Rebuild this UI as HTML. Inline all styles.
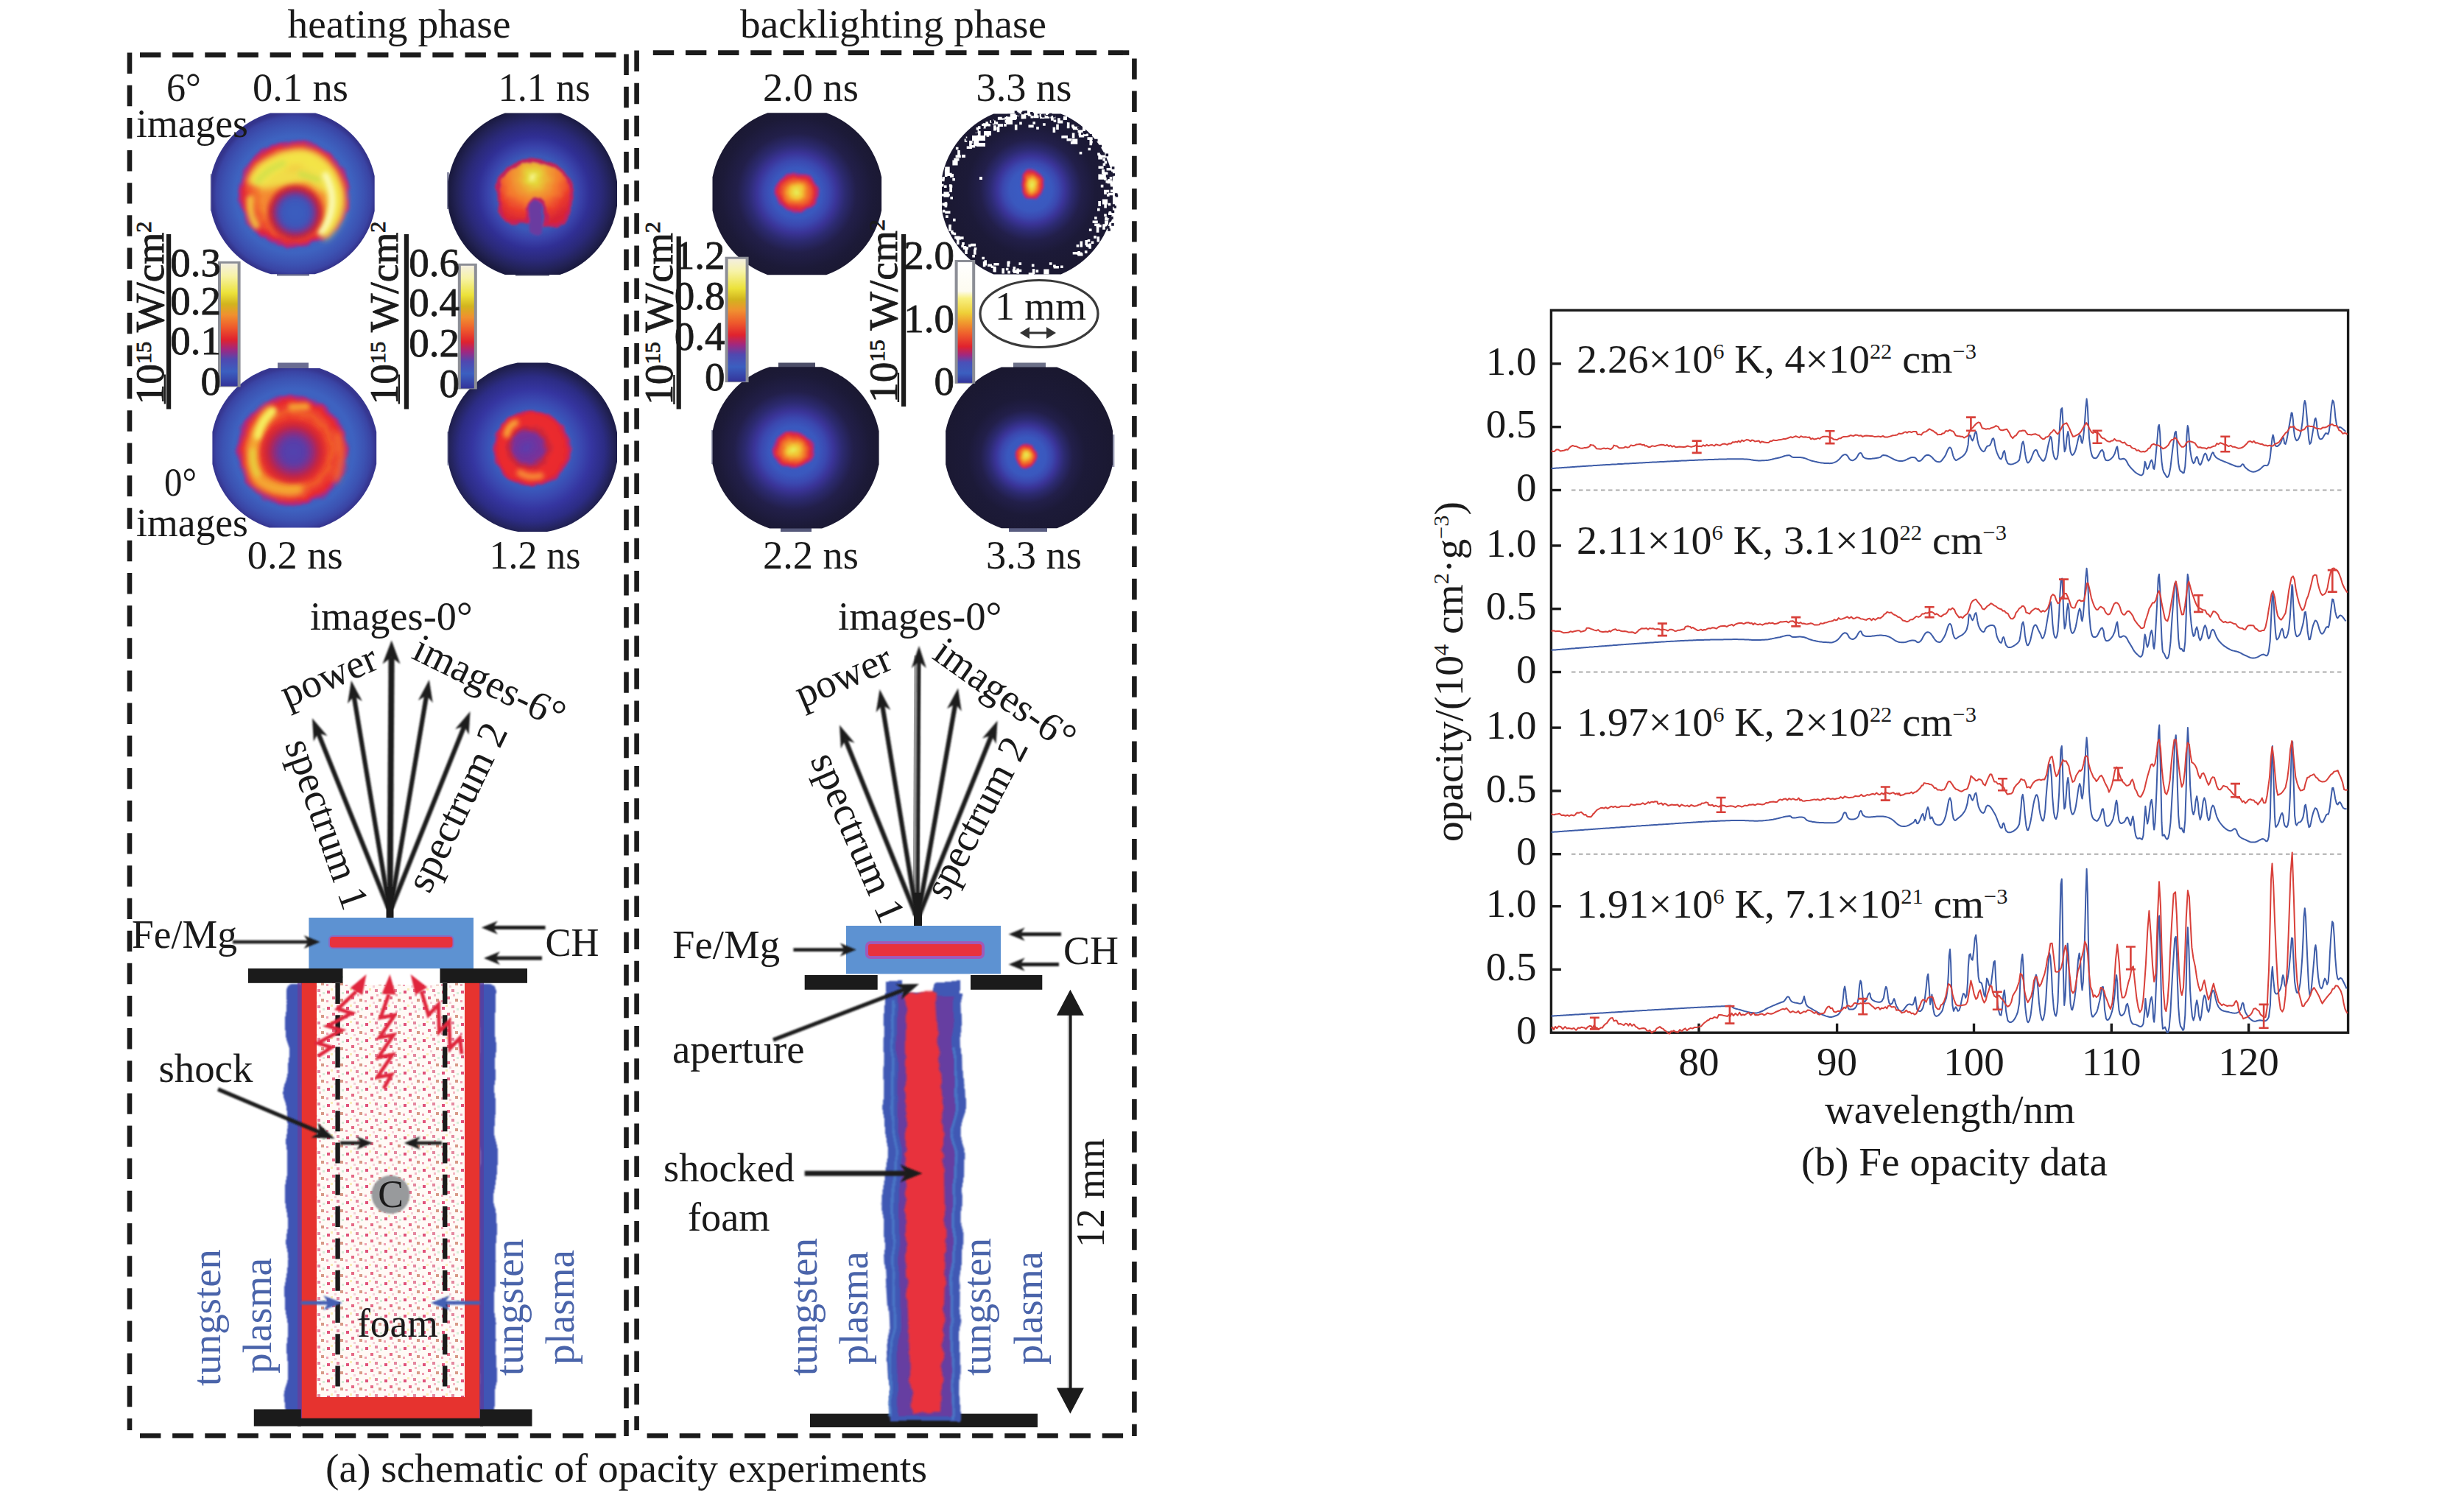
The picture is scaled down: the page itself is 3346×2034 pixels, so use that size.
<!DOCTYPE html>
<html><head><meta charset="utf-8"><title>Fe opacity experiments</title>
<style>html,body{margin:0;padding:0;background:#fff}svg{display:block}text{font-family:'Liberation Serif', 'Noto Serif CJK SC', serif}</style></head>
<body>
<svg width="3346" height="2034" viewBox="0 0 3346 2034" font-family="Liberation Serif, Noto Serif CJK SC, serif">

<defs>
<linearGradient id="cb" x1="0" y1="0" x2="0" y2="1">
<stop offset="0" stop-color="#f4efe0"/><stop offset="0.10" stop-color="#f7f3a8"/><stop offset="0.24" stop-color="#ece23a"/>
<stop offset="0.33" stop-color="#d2b41e"/><stop offset="0.42" stop-color="#f09030"/><stop offset="0.52" stop-color="#ee5a2c"/>
<stop offset="0.62" stop-color="#e0222e"/><stop offset="0.70" stop-color="#a02880"/><stop offset="0.78" stop-color="#5048b0"/>
<stop offset="0.88" stop-color="#3b5fc0"/><stop offset="1" stop-color="#34349a"/>
</linearGradient>
<linearGradient id="cb4" x1="0" y1="0" x2="0" y2="1">
<stop offset="0" stop-color="#ffffff"/><stop offset="0.24" stop-color="#fdfbf0"/><stop offset="0.30" stop-color="#f8f080"/>
<stop offset="0.42" stop-color="#eed038"/><stop offset="0.50" stop-color="#f09a2e"/><stop offset="0.60" stop-color="#ee5a2c"/>
<stop offset="0.70" stop-color="#e0222e"/><stop offset="0.77" stop-color="#a02880"/><stop offset="0.83" stop-color="#4a50b8"/>
<stop offset="0.92" stop-color="#3b5fc0"/><stop offset="1" stop-color="#34349a"/>
</linearGradient>
<filter id="b2" x="-20%" y="-20%" width="140%" height="140%"><feGaussianBlur stdDeviation="2"/></filter>
<filter id="b3" x="-20%" y="-20%" width="140%" height="140%"><feGaussianBlur stdDeviation="3.2"/></filter>
<filter id="b5" x="-30%" y="-30%" width="160%" height="160%"><feGaussianBlur stdDeviation="5"/></filter>
<filter id="b8" x="-30%" y="-30%" width="160%" height="160%"><feGaussianBlur stdDeviation="8"/></filter>
<filter id="b1" x="-10%" y="-10%" width="120%" height="120%"><feGaussianBlur stdDeviation="1.1"/></filter>
<filter id="rough" x="-10%" y="-10%" width="120%" height="120%"><feTurbulence type="fractalNoise" baseFrequency="0.06" numOctaves="2" seed="3" result="n"/><feDisplacementMap in="SourceGraphic" in2="n" scale="9"/><feGaussianBlur stdDeviation="1.6"/></filter>
<filter id="wav" x="-10%" y="-5%" width="120%" height="110%"><feTurbulence type="fractalNoise" baseFrequency="0.012 0.02" numOctaves="2" seed="7" result="n"/><feDisplacementMap in="SourceGraphic" in2="n" scale="16" xChannelSelector="R" yChannelSelector="G"/><feGaussianBlur stdDeviation="1.2"/></filter>
<pattern id="speck" width="26" height="22" patternUnits="userSpaceOnUse">
<rect width="26" height="22" fill="#fffaf6"/>
<rect x="2" y="3" width="4" height="4" fill="#e0527a"/><rect x="15" y="1" width="4" height="4" fill="#e488a0"/>
<rect x="9" y="11" width="4" height="4" fill="#e66a86"/><rect x="20" y="14" width="4" height="4" fill="#d89a88"/>
<rect x="1" y="16" width="3" height="3" fill="#f0a0b4"/><rect x="17" y="8" width="3" height="3" fill="#f4b8c4"/>
<rect x="7" y="0" width="3" height="3" fill="#f8ecb8"/><rect x="22" y="5" width="3" height="3" fill="#d8ecd8"/>
<rect x="12" y="18" width="3" height="3" fill="#f6d0d8"/>
</pattern>
<filter id="f1a" filterUnits="userSpaceOnUse" x="280" y="148" width="240" height="232"><feGaussianBlur stdDeviation="5"/></filter>
<filter id="f1b" filterUnits="userSpaceOnUse" x="280" y="148" width="240" height="232"><feGaussianBlur stdDeviation="3"/></filter>
<filter id="f1r" filterUnits="userSpaceOnUse" x="280" y="148" width="240" height="232"><feTurbulence type="fractalNoise" baseFrequency="0.06" numOctaves="2" seed="3" result="n"/><feDisplacementMap in="SourceGraphic" in2="n" scale="9" xChannelSelector="R" yChannelSelector="G"/><feGaussianBlur stdDeviation="1.6"/></filter>
<radialGradient id="g1" gradientUnits="userSpaceOnUse" cx="399" cy="264" r="111"><stop offset="0" stop-color="#3f6ac6"/><stop offset="0.72" stop-color="#3e63c0"/><stop offset="0.86" stop-color="#3c52b2"/><stop offset="0.95" stop-color="#3a44a4"/><stop offset="1" stop-color="#34348c"/></radialGradient>
<radialGradient id="h1" gradientUnits="userSpaceOnUse" cx="399.4" cy="263.5" r="79" gradientTransform="translate(0 13.2) scale(1 0.95)"><stop offset="0" stop-color="#f4902e"/><stop offset="0.55" stop-color="#f48a30"/><stop offset="0.74" stop-color="#f0562c"/><stop offset="0.86" stop-color="#e22838"/><stop offset="0.94" stop-color="#a82a86"/><stop offset="1" stop-color="#5a48b0" stop-opacity="0"/></radialGradient>
<radialGradient id="o1" gradientUnits="userSpaceOnUse" cx="401" cy="289" r="40"><stop offset="0" stop-color="#3a5ec0"/><stop offset="0.46" stop-color="#3c58ba"/><stop offset="0.62" stop-color="#5a3ca4"/><stop offset="0.78" stop-color="#b4203c"/><stop offset="0.92" stop-color="#e03030"/><stop offset="1" stop-color="#f05a2c" stop-opacity="0"/></radialGradient>
<filter id="f2r" filterUnits="userSpaceOnUse" x="600" y="148" width="250" height="232"><feTurbulence type="fractalNoise" baseFrequency="0.06" numOctaves="2" seed="5" result="n"/><feDisplacementMap in="SourceGraphic" in2="n" scale="8" xChannelSelector="R" yChannelSelector="G"/><feGaussianBlur stdDeviation="1.6"/></filter>
<filter id="f2b" filterUnits="userSpaceOnUse" x="600" y="148" width="250" height="232"><feGaussianBlur stdDeviation="3"/></filter>
<radialGradient id="g2" gradientUnits="userSpaceOnUse" cx="725" cy="262" r="115"><stop offset="0" stop-color="#3c5cbc"/><stop offset="0.44" stop-color="#3b58b8"/><stop offset="0.55" stop-color="#3942aa"/><stop offset="0.66" stop-color="#302f94"/><stop offset="0.8" stop-color="#2a2978"/><stop offset="0.92" stop-color="#222256"/><stop offset="1" stop-color="#1a1a40"/></radialGradient>
<radialGradient id="h2" gradientUnits="userSpaceOnUse" cx="724" cy="240" r="64"><stop offset="0" stop-color="#f6f48a"/><stop offset="0.14" stop-color="#e4d83a"/><stop offset="0.34" stop-color="#f0a032"/><stop offset="0.56" stop-color="#f4782e"/><stop offset="0.8" stop-color="#ea3a2c"/><stop offset="1" stop-color="#d82434"/></radialGradient>
<filter id="f3a" filterUnits="userSpaceOnUse" x="282" y="490" width="240" height="236"><feGaussianBlur stdDeviation="5"/></filter>
<filter id="f3b" filterUnits="userSpaceOnUse" x="282" y="490" width="240" height="236"><feGaussianBlur stdDeviation="3"/></filter>
<filter id="f3r" filterUnits="userSpaceOnUse" x="282" y="490" width="240" height="236"><feTurbulence type="fractalNoise" baseFrequency="0.06" numOctaves="2" seed="8" result="n"/><feDisplacementMap in="SourceGraphic" in2="n" scale="9" xChannelSelector="R" yChannelSelector="G"/><feGaussianBlur stdDeviation="1.6"/></filter>
<radialGradient id="g3" gradientUnits="userSpaceOnUse" cx="399" cy="610" r="111"><stop offset="0" stop-color="#3e62c0"/><stop offset="0.74" stop-color="#3e62c0"/><stop offset="0.87" stop-color="#3c52b2"/><stop offset="0.95" stop-color="#3a44a4"/><stop offset="1" stop-color="#363690"/></radialGradient>
<radialGradient id="h3" gradientUnits="userSpaceOnUse" cx="397" cy="612" r="78.5"><stop offset="0" stop-color="#e8302c"/><stop offset="0.5" stop-color="#ea342c"/><stop offset="0.68" stop-color="#f0582c"/><stop offset="0.84" stop-color="#e8282e"/><stop offset="0.93" stop-color="#a82a86"/><stop offset="1" stop-color="#5a48b0" stop-opacity="0"/></radialGradient>
<radialGradient id="o3" gradientUnits="userSpaceOnUse" cx="398.5" cy="613.5" r="46"><stop offset="0" stop-color="#5044b0"/><stop offset="0.36" stop-color="#5a3ca8"/><stop offset="0.56" stop-color="#8a2c80"/><stop offset="0.76" stop-color="#c8243a"/><stop offset="0.9" stop-color="#e02c30"/><stop offset="1" stop-color="#e8302c" stop-opacity="0"/></radialGradient>
<filter id="f4b" filterUnits="userSpaceOnUse" x="600" y="485" width="250" height="244"><feGaussianBlur stdDeviation="3"/></filter>
<filter id="f4r" filterUnits="userSpaceOnUse" x="600" y="485" width="250" height="244"><feTurbulence type="fractalNoise" baseFrequency="0.06" numOctaves="2" seed="11" result="n"/><feDisplacementMap in="SourceGraphic" in2="n" scale="8" xChannelSelector="R" yChannelSelector="G"/><feGaussianBlur stdDeviation="1.6"/></filter>
<radialGradient id="g4" gradientUnits="userSpaceOnUse" cx="722" cy="610" r="116"><stop offset="0" stop-color="#3a5cc0"/><stop offset="0.46" stop-color="#3a5abc"/><stop offset="0.58" stop-color="#3a48b0"/><stop offset="0.7" stop-color="#3535a0"/><stop offset="0.85" stop-color="#2c2c84"/><stop offset="0.95" stop-color="#24245e"/><stop offset="1" stop-color="#1e1e4c"/></radialGradient>
<radialGradient id="h4" gradientUnits="userSpaceOnUse" cx="722" cy="609" r="54" fx="714" fy="607"><stop offset="0" stop-color="#5c3cac"/><stop offset="0.36" stop-color="#7a3098"/><stop offset="0.5" stop-color="#cc263a"/><stop offset="0.62" stop-color="#ec2c2e"/><stop offset="0.86" stop-color="#e8282e"/><stop offset="0.95" stop-color="#b42870"/><stop offset="1" stop-color="#5a48b0" stop-opacity="0"/></radialGradient>
<radialGradient id="g5" gradientUnits="userSpaceOnUse" cx="1082" cy="262" r="123.98400000000001"><stop offset="0" stop-color="#3a5ec6"/><stop offset="0.27" stop-color="#3a58be"/><stop offset="0.357" stop-color="#3b48b0"/><stop offset="0.436" stop-color="#3a3498"/><stop offset="0.531" stop-color="#2c2a70"/><stop offset="0.653" stop-color="#221f4a"/><stop offset="0.828" stop-color="#1c1a38"/><stop offset="1" stop-color="#1a1830"/></radialGradient>
<radialGradient id="h5" gradientUnits="userSpaceOnUse" cx="1082" cy="261" r="31" gradientTransform="translate(0.00 25.26) scale(1.000 0.903)"><stop offset="0" stop-color="#e6f05a"/><stop offset="0.3" stop-color="#f2c432"/><stop offset="0.55" stop-color="#f2702a"/><stop offset="0.78" stop-color="#e22836"/><stop offset="0.93" stop-color="#a42a8c"/><stop offset="1" stop-color="#4a50b8" stop-opacity="0"/></radialGradient>
<filter id="f5" filterUnits="userSpaceOnUse" x="963.5" y="149.2" width="237.6" height="228"><feTurbulence type="fractalNoise" baseFrequency="0.06" numOctaves="2" seed="4" result="n"/><feDisplacementMap in="SourceGraphic" in2="n" scale="7" xChannelSelector="R" yChannelSelector="G"/><feGaussianBlur stdDeviation="1.4"/></filter>
<radialGradient id="g6" gradientUnits="userSpaceOnUse" cx="1400" cy="258" r="125.28"><stop offset="0" stop-color="#3a5ec6"/><stop offset="0.228" stop-color="#3a58be"/><stop offset="0.301" stop-color="#3b48b0"/><stop offset="0.367" stop-color="#3a3498"/><stop offset="0.448" stop-color="#2c2a70"/><stop offset="0.551" stop-color="#221f4a"/><stop offset="0.698" stop-color="#1c1a38"/><stop offset="1" stop-color="#1a1830"/></radialGradient>
<radialGradient id="h6" gradientUnits="userSpaceOnUse" cx="1401" cy="251" r="22" gradientTransform="translate(318.41 0.00) scale(0.773 1.000)"><stop offset="0" stop-color="#e6f05a"/><stop offset="0.3" stop-color="#f2c432"/><stop offset="0.55" stop-color="#f2702a"/><stop offset="0.78" stop-color="#e22836"/><stop offset="0.93" stop-color="#a42a8c"/><stop offset="1" stop-color="#4a50b8" stop-opacity="0"/></radialGradient>
<filter id="f6" filterUnits="userSpaceOnUse" x="1275" y="150.39999999999998" width="240" height="226"><feTurbulence type="fractalNoise" baseFrequency="0.06" numOctaves="2" seed="6" result="n"/><feDisplacementMap in="SourceGraphic" in2="n" scale="7" xChannelSelector="R" yChannelSelector="G"/><feGaussianBlur stdDeviation="1.4"/></filter>
<radialGradient id="g7" gradientUnits="userSpaceOnUse" cx="1078" cy="612" r="122.04"><stop offset="0" stop-color="#3a5ec6"/><stop offset="0.274" stop-color="#3a58be"/><stop offset="0.363" stop-color="#3b48b0"/><stop offset="0.442" stop-color="#3a3498"/><stop offset="0.54" stop-color="#2c2a70"/><stop offset="0.664" stop-color="#221f4a"/><stop offset="0.841" stop-color="#1c1a38"/><stop offset="1" stop-color="#1a1830"/></radialGradient>
<radialGradient id="h7" gradientUnits="userSpaceOnUse" cx="1077" cy="610.5" r="30" gradientTransform="translate(0.00 81.40) scale(1.000 0.867)"><stop offset="0" stop-color="#e6f05a"/><stop offset="0.3" stop-color="#f2c432"/><stop offset="0.55" stop-color="#f2702a"/><stop offset="0.78" stop-color="#e22836"/><stop offset="0.93" stop-color="#a42a8c"/><stop offset="1" stop-color="#4a50b8" stop-opacity="0"/></radialGradient>
<filter id="f7" filterUnits="userSpaceOnUse" x="963.5999999999999" y="494.19999999999993" width="234" height="227.2"><feTurbulence type="fractalNoise" baseFrequency="0.06" numOctaves="2" seed="9" result="n"/><feDisplacementMap in="SourceGraphic" in2="n" scale="7" xChannelSelector="R" yChannelSelector="G"/><feGaussianBlur stdDeviation="1.4"/></filter>
<radialGradient id="g8" gradientUnits="userSpaceOnUse" cx="1394" cy="620" r="122.58000000000001"><stop offset="0" stop-color="#3a5ec6"/><stop offset="0.212" stop-color="#3a58be"/><stop offset="0.281" stop-color="#3b48b0"/><stop offset="0.343" stop-color="#3a3498"/><stop offset="0.418" stop-color="#2c2a70"/><stop offset="0.514" stop-color="#221f4a"/><stop offset="0.651" stop-color="#1c1a38"/><stop offset="1" stop-color="#1a1830"/></radialGradient>
<radialGradient id="h8" gradientUnits="userSpaceOnUse" cx="1393.5" cy="618.5" r="18" gradientTransform="translate(154.83 0.00) scale(0.889 1.000)"><stop offset="0" stop-color="#e6f05a"/><stop offset="0.3" stop-color="#f2c432"/><stop offset="0.55" stop-color="#f2702a"/><stop offset="0.78" stop-color="#e22836"/><stop offset="0.93" stop-color="#a42a8c"/><stop offset="1" stop-color="#4a50b8" stop-opacity="0"/></radialGradient>
<filter id="f8" filterUnits="userSpaceOnUse" x="1280.1" y="494.4" width="235.0" height="226.8"><feTurbulence type="fractalNoise" baseFrequency="0.06" numOctaves="2" seed="12" result="n"/><feDisplacementMap in="SourceGraphic" in2="n" scale="7" xChannelSelector="R" yChannelSelector="G"/><feGaussianBlur stdDeviation="1.4"/></filter>
</defs>
<rect width="100%" height="100%" fill="#fff"/>
<g><clipPath id="r1"><rect x="286.7" y="153.4" width="222.0" height="218.8"/></clipPath><clipPath id="c1" clip-path="url(#r1)"><circle cx="397.7" cy="262.7" r="113.5"/></clipPath>
<rect x="285.4" y="236" width="2.6" height="50" fill="#b8bacc"/><rect x="376" y="369" width="44" height="5.5" fill="#6a6c8e"/>
<g clip-path="url(#c1)"><rect x="280" y="150" width="236" height="228" fill="url(#g1)"/>
<g filter="url(#f1r)"><ellipse cx="399.4" cy="263.5" rx="79" ry="75" fill="url(#h1)"/></g>
<g filter="url(#f1a)"><path d="M346 252 Q352 232 372 224 Q392 212 414 214 Q440 222 452 250 Q462 276 450 298 Q444 310 434 316" fill="none" stroke="#f3ea4a" stroke-width="24" stroke-linecap="butt" opacity="0.95"/><path d="M360 246 L420 236 L440 250" fill="none" stroke="#f1e44a" stroke-width="22" stroke-linecap="round" opacity="0.9"/></g>
<g filter="url(#f1b)"><path d="M442 238 Q458 268 446 298 Q442 308 436 314" fill="none" stroke="#fbfab4" stroke-width="9" stroke-linecap="round"/><path d="M350 246 Q362 230 384 222" fill="none" stroke="#cfe04a" stroke-width="9" stroke-linecap="round" opacity="0.8"/><path d="M340 270 Q338 292 348 306" fill="none" stroke="#f2d040" stroke-width="10" stroke-linecap="round" opacity="0.85"/><path d="M408 236 L432 244" fill="none" stroke="#c6de48" stroke-width="7" stroke-linecap="round" opacity="0.8"/></g>
<circle cx="401" cy="289" r="40" fill="url(#o1)" filter="url(#f1b)"/>
</g></g>
<g><clipPath id="r2"><rect x="608.4" y="153.4" width="229.6" height="219.6"/></clipPath><clipPath id="c2" clip-path="url(#r2)"><circle cx="723.2" cy="263.2" r="116"/></clipPath>
<rect x="607" y="234" width="3" height="50" fill="#8e90a8"/><rect x="700" y="369.5" width="46" height="5" fill="#555672"/>
<g clip-path="url(#c2)"><rect x="600" y="150" width="246" height="228" fill="url(#g2)"/>
<g filter="url(#f2r)"><path d="M676 268 Q674 224 724 217 Q778 224 776 270 Q774 300 758 308 L741 305 Q746 282 734 272 Q722 266 716 284 L716 302 L694 302 Q676 292 676 268 Z" fill="url(#h2)" stroke="#c4225a" stroke-width="5"/><path d="M727 282 L728 310" stroke="#6a3aa0" stroke-width="19" stroke-linecap="round"/></g>
</g></g>
<g><clipPath id="r3"><rect x="288.4" y="500" width="222.8" height="216.4"/></clipPath><clipPath id="c3" clip-path="url(#r3)"><circle cx="399.8" cy="608.2" r="113.5"/></clipPath>
<rect x="377" y="492.5" width="42" height="9" fill="#6a6c92"/>
<g clip-path="url(#c3)"><rect x="280" y="495" width="240" height="228" fill="url(#g3)"/>
<g filter="url(#f3r)"><ellipse cx="397" cy="612" rx="78.5" ry="77" fill="url(#h3)"/></g>
<g filter="url(#f3a)"><path d="M366 560 Q350 578 344 606 Q340 636 352 652 Q372 668 404 664" fill="none" stroke="#f4a832" stroke-width="17" stroke-linecap="round"/><path d="M458 590 Q468 620 456 650" fill="none" stroke="#f47a30" stroke-width="9" stroke-linecap="round" opacity="0.8"/></g>
<g filter="url(#f3b)"><path d="M370 558 Q354 572 350 592" fill="none" stroke="#f6f060" stroke-width="10" stroke-linecap="round"/><path d="M343 612 Q342 632 350 644" fill="none" stroke="#e4d840" stroke-width="7" stroke-linecap="round" opacity="0.85"/><path d="M396 553 L416 552" fill="none" stroke="#f4a030" stroke-width="10" stroke-linecap="round"/></g>
<ellipse cx="398.5" cy="613.5" rx="46" ry="42" fill="url(#o3)" filter="url(#f3b)"/>
</g></g>
<g><clipPath id="r4"><rect x="608.4" y="492.5" width="229.6" height="229.5"/></clipPath><clipPath id="c4" clip-path="url(#r4)"><circle cx="723.2" cy="607.2" r="116.5"/></clipPath>
<rect x="607" y="586" width="3" height="46" fill="#c0c2d4"/>
<g clip-path="url(#c4)"><rect x="600" y="485" width="246" height="244" fill="url(#g4)"/>
<g filter="url(#f4r)"><ellipse cx="722" cy="609" rx="54" ry="52" fill="url(#h4)"/></g>
<g filter="url(#f4b)"><path d="M688 590 Q690 578 700 574" fill="none" stroke="#f8a434" stroke-width="9" stroke-linecap="round"/><path d="M706 642 Q718 650 734 646" fill="none" stroke="#f68a34" stroke-width="9" stroke-linecap="round"/></g>
</g></g>
<g><clipPath id="r5"><rect x="967.5" y="153.2" width="229.6" height="220"/></clipPath><clipPath id="c5" clip-path="url(#r5)"><circle cx="1082.3" cy="263.2" r="117.0"/></clipPath>
<g clip-path="url(#c5)"><rect x="964.5" y="150.2" width="235.6" height="226" fill="url(#g5)"/>
<g filter="url(#f5)"><ellipse cx="1082" cy="261" rx="31" ry="28" fill="url(#h5)"/></g>
</g>
</g>
<g><clipPath id="r6"><rect x="1279" y="154.39999999999998" width="232" height="218"/></clipPath><clipPath id="c6" clip-path="url(#r6)"><circle cx="1395" cy="263.4" r="118.2"/></clipPath>
<g clip-path="url(#c6)"><rect x="1276" y="151.39999999999998" width="238" height="224" fill="url(#g6)"/>
<g filter="url(#f6)"><ellipse cx="1401" cy="251" rx="17" ry="22" fill="url(#h6)"/></g>
</g>
<path d="M1316.1 191.1h3.6v7.2h-3.6zM1411.6 155.1h3.6v3.6h-3.6zM1478.4 330.5h3.6v7.2h-3.6zM1286.1 233.1h3.6v3.6h-3.6zM1296.2 320.6h7.2v3.6h-7.2zM1401.7 152.8h7.2v3.6h-7.2zM1461.6 332.0h3.6v3.6h-3.6zM1407.2 172.1h3.6v3.6h-3.6zM1368.1 354.4h3.6v3.6h-3.6zM1491.5 225.4h7.2v3.6h-7.2zM1504.7 275.7h3.6v3.6h-3.6zM1498.0 304.2h3.6v3.6h-3.6zM1497.2 304.5h3.6v7.2h-3.6zM1354.9 159.1h7.2v3.6h-7.2zM1486.1 294.2h3.6v3.6h-3.6zM1458.1 171.2h7.2v3.6h-7.2zM1317.9 330.8h7.2v3.6h-7.2zM1364.6 163.1h3.6v3.6h-3.6zM1396.5 169.6h7.2v3.6h-7.2zM1289.3 253.7h3.6v7.2h-3.6zM1476.7 324.9h3.6v3.6h-3.6zM1490.0 282.8h3.6v3.6h-3.6zM1333.4 348.7h3.6v3.6h-3.6zM1375.6 362.1h3.6v3.6h-3.6zM1348.3 162.6h3.6v3.6h-3.6zM1372.4 156.0h7.2v3.6h-7.2zM1371.4 154.4h7.2v3.6h-7.2zM1401.8 365.1h3.6v7.2h-3.6zM1325.6 173.1h3.6v7.2h-3.6zM1334.8 355.0h3.6v7.2h-3.6zM1481.7 327.4h3.6v3.6h-3.6zM1456.9 172.7h7.2v3.6h-7.2zM1503.5 245.6h7.2v3.6h-7.2zM1279.3 275.6h7.2v3.6h-7.2zM1473.4 326.0h3.6v7.2h-3.6zM1470.7 181.4h7.2v3.6h-7.2zM1282.0 251.4h3.6v3.6h-3.6zM1416.1 167.2h3.6v3.6h-3.6zM1322.0 338.5h3.6v7.2h-3.6zM1383.5 356.3h3.6v3.6h-3.6zM1328.0 177.7h3.6v7.2h-3.6zM1282.9 229.9h3.6v7.2h-3.6zM1365.9 363.7h3.6v3.6h-3.6zM1375.9 367.5h7.2v3.6h-7.2zM1494.9 210.6h7.2v3.6h-7.2zM1499.2 233.4h3.6v3.6h-3.6zM1442.8 184.1h7.2v3.6h-7.2zM1354.8 168.3h7.2v3.6h-7.2zM1317.0 197.0h7.2v3.6h-7.2zM1317.1 191.2h3.6v3.6h-3.6zM1430.1 359.5h3.6v3.6h-3.6zM1399.5 153.2h3.6v7.2h-3.6zM1507.5 247.6h3.6v3.6h-3.6zM1345.6 360.4h3.6v3.6h-3.6zM1294.6 315.7h3.6v3.6h-3.6zM1400.9 358.6h3.6v3.6h-3.6zM1297.9 321.8h7.2v3.6h-7.2zM1351.6 165.3h3.6v3.6h-3.6zM1485.2 320.1h3.6v3.6h-3.6zM1491.4 236.6h7.2v7.2h-7.2zM1434.2 168.8h3.6v7.2h-3.6zM1462.4 342.4h7.2v3.6h-7.2zM1499.1 241.1h3.6v3.6h-3.6zM1308.7 334.1h3.6v3.6h-3.6zM1322.1 191.0h7.2v7.2h-7.2zM1288.2 306.5h3.6v7.2h-3.6zM1504.3 243.1h3.6v3.6h-3.6zM1386.6 154.3h3.6v7.2h-3.6zM1491.3 272.9h3.6v7.2h-3.6zM1497.4 214.9h3.6v3.6h-3.6zM1339.6 182.2h3.6v3.6h-3.6zM1505.0 288.4h7.2v3.6h-7.2zM1282.6 274.3h3.6v7.2h-3.6zM1415.8 155.8h3.6v3.6h-3.6zM1372.6 155.7h7.2v7.2h-7.2zM1288.9 250.2h3.6v3.6h-3.6zM1400.4 154.4h3.6v3.6h-3.6zM1379.4 153.2h3.6v3.6h-3.6zM1349.9 172.7h3.6v3.6h-3.6zM1503.0 263.2h3.6v3.6h-3.6zM1496.9 270.4h7.2v7.2h-7.2zM1456.1 188.5h7.2v7.2h-7.2zM1349.1 170.3h3.6v7.2h-3.6zM1448.9 166.0h3.6v7.2h-3.6zM1297.6 210.6h7.2v3.6h-7.2zM1463.3 344.0h7.2v3.6h-7.2zM1282.9 236.3h3.6v3.6h-3.6zM1380.5 154.4h3.6v3.6h-3.6zM1333.1 168.1h7.2v3.6h-7.2zM1499.2 260.4h3.6v3.6h-3.6zM1455.8 171.0h3.6v3.6h-3.6zM1499.0 257.7h7.2v3.6h-7.2zM1440.1 360.5h3.6v3.6h-3.6zM1309.7 185.6h3.6v7.2h-3.6zM1389.8 154.0h3.6v7.2h-3.6zM1476.5 186.3h7.2v3.6h-7.2zM1349.4 356.9h7.2v3.6h-7.2zM1497.6 221.4h3.6v3.6h-3.6zM1355.4 158.7h3.6v3.6h-3.6zM1383.7 365.7h3.6v3.6h-3.6zM1277.9 249.8h3.6v3.6h-3.6zM1284.1 292.3h3.6v3.6h-3.6zM1327.9 171.3h3.6v3.6h-3.6zM1465.0 183.0h7.2v3.6h-7.2zM1306.2 329.0h3.6v3.6h-3.6zM1426.4 157.0h7.2v3.6h-7.2zM1448.5 188.0h7.2v3.6h-7.2zM1392.7 152.5h7.2v3.6h-7.2zM1463.3 341.0h3.6v3.6h-3.6zM1367.5 355.1h3.6v7.2h-3.6zM1315.1 331.8h3.6v3.6h-3.6zM1430.6 162.4h3.6v3.6h-3.6zM1300.2 204.0h3.6v7.2h-3.6zM1499.9 303.6h3.6v3.6h-3.6zM1430.7 360.9h7.2v3.6h-7.2zM1504.6 261.7h7.2v3.6h-7.2zM1279.8 284.8h3.6v3.6h-3.6zM1486.2 303.4h7.2v3.6h-7.2zM1283.3 226.4h3.6v3.6h-3.6zM1338.4 165.3h3.6v3.6h-3.6zM1493.5 212.9h3.6v3.6h-3.6zM1341.4 168.0h3.6v3.6h-3.6zM1418.0 157.2h7.2v3.6h-7.2zM1378.0 153.8h3.6v3.6h-3.6zM1295.3 214.8h7.2v3.6h-7.2zM1344.2 163.2h3.6v3.6h-3.6zM1483.6 299.5h7.2v3.6h-7.2zM1411.6 154.5h3.6v3.6h-3.6zM1324.3 177.2h3.6v3.6h-3.6zM1283.3 286.5h7.2v3.6h-7.2zM1499.2 290.4h3.6v3.6h-3.6zM1369.0 155.8h7.2v3.6h-7.2zM1499.6 218.6h3.6v3.6h-3.6zM1286.2 263.0h3.6v3.6h-3.6zM1448.8 170.7h3.6v3.6h-3.6zM1502.6 228.0h7.2v3.6h-7.2zM1279.3 240.1h3.6v3.6h-3.6zM1478.9 310.4h3.6v3.6h-3.6zM1464.5 176.8h3.6v7.2h-3.6zM1284.0 235.4h7.2v3.6h-7.2zM1377.9 169.3h3.6v7.2h-3.6zM1465.7 206.0h3.6v3.6h-3.6zM1349.2 362.2h3.6v7.2h-3.6zM1348.5 361.8h3.6v7.2h-3.6zM1396.7 370.2h7.2v3.6h-7.2zM1374.8 365.6h3.6v3.6h-3.6zM1363.2 168.1h3.6v3.6h-3.6zM1488.5 304.9h7.2v3.6h-7.2zM1477.5 200.7h3.6v3.6h-3.6zM1294.0 296.8h3.6v3.6h-3.6zM1358.4 158.7h7.2v3.6h-7.2zM1343.4 358.5h3.6v3.6h-3.6zM1278.6 262.9h3.6v3.6h-3.6zM1289.0 234.7h3.6v3.6h-3.6zM1466.5 327.6h3.6v7.2h-3.6zM1453.9 192.1h3.6v3.6h-3.6zM1279.0 242.7h3.6v3.6h-3.6zM1320.3 345.9h3.6v3.6h-3.6zM1380.4 364.5h3.6v7.2h-3.6zM1403.3 156.6h7.2v3.6h-7.2zM1336.4 353.3h3.6v7.2h-3.6zM1297.9 199.7h3.6v3.6h-3.6zM1293.3 241.9h3.6v3.6h-3.6zM1466.4 332.0h3.6v3.6h-3.6zM1507.9 246.4h3.6v7.2h-3.6zM1361.4 158.9h7.2v3.6h-7.2zM1424.9 356.2h3.6v3.6h-3.6zM1402.4 165.2h3.6v3.6h-3.6zM1429.6 172.7h3.6v7.2h-3.6zM1299.0 324.8h3.6v7.2h-3.6zM1307.8 335.1h7.2v3.6h-7.2zM1395.6 154.0h3.6v3.6h-3.6zM1281.5 276.5h3.6v3.6h-3.6zM1310.2 337.8h3.6v7.2h-3.6zM1499.3 275.4h3.6v7.2h-3.6zM1281.5 260.6h7.2v7.2h-7.2zM1494.8 250.8h3.6v3.6h-3.6zM1427.1 160.1h3.6v3.6h-3.6zM1368.3 367.8h3.6v3.6h-3.6zM1312.7 198.4h7.2v3.6h-7.2zM1506.7 240.1h3.6v3.6h-3.6zM1505.6 287.0h3.6v3.6h-3.6zM1353.8 172.1h3.6v7.2h-3.6zM1289.7 251.2h3.6v3.6h-3.6zM1501.5 245.0h7.2v3.6h-7.2zM1339.1 167.6h3.6v3.6h-3.6zM1305.3 332.5h3.6v3.6h-3.6zM1480.1 190.9h3.6v3.6h-3.6zM1426.8 157.3h3.6v3.6h-3.6zM1321.5 187.3h3.6v3.6h-3.6zM1293.4 217.4h7.2v7.2h-7.2zM1406.6 366.3h3.6v3.6h-3.6zM1292.1 314.9h3.6v3.6h-3.6zM1291.0 312.7h3.6v3.6h-3.6zM1288.3 304.8h3.6v3.6h-3.6zM1377.7 153.4h7.2v3.6h-7.2zM1441.3 184.2h3.6v3.6h-3.6zM1455.8 180.5h3.6v7.2h-3.6zM1455.1 169.3h3.6v3.6h-3.6zM1489.5 321.2h3.6v7.2h-3.6zM1384.2 165.6h3.6v3.6h-3.6zM1322.7 336.0h3.6v3.6h-3.6zM1341.1 358.4h3.6v3.6h-3.6zM1301.4 321.3h7.2v3.6h-7.2zM1474.8 331.4h3.6v3.6h-3.6zM1347.9 165.6h3.6v3.6h-3.6zM1290.4 267.0h3.6v3.6h-3.6zM1476.5 332.2h3.6v3.6h-3.6zM1491.3 209.4h3.6v7.2h-3.6zM1326.6 183.6h3.6v3.6h-3.6zM1360.4 364.3h3.6v7.2h-3.6zM1500.3 294.4h3.6v3.6h-3.6zM1334.8 167.2h3.6v3.6h-3.6zM1286.1 226.4h3.6v7.2h-3.6zM1463.5 176.5h7.2v3.6h-7.2zM1472.9 340.3h3.6v3.6h-3.6zM1436.1 160.2h7.2v7.2h-7.2zM1471.3 181.2h3.6v3.6h-3.6zM1503.5 244.5h7.2v3.6h-7.2zM1497.3 233.7h7.2v3.6h-7.2zM1500.1 296.2h7.2v3.6h-7.2zM1417.3 365.4h7.2v7.2h-7.2zM1490.2 207.6h3.6v3.6h-3.6zM1456.7 341.9h7.2v3.6h-7.2zM1508.0 257.4h7.2v3.6h-7.2zM1378.2 366.4h3.6v3.6h-3.6zM1335.0 167.3h3.6v7.2h-3.6zM1488.8 308.6h3.6v7.2h-3.6zM1479.5 190.0h3.6v7.2h-3.6zM1498.2 236.5h3.6v7.2h-3.6z" fill="#fff"/>
<path d="M1320 184h18v7h-18zM1336 178h10v6h-10zM1326 194h12v5h-12zM1366 158h9v11h-9zM1375 156h6v6h-6zM1444 158h5v5h-5zM1398 154h8v4h-8zM1412 156h6v5h-6zM1420 152h4v4h-4zM1470 170h4v8h-4zM1290 236h5v5h-5zM1306 210h5v4h-5zM1500 300h5v5h-5zM1496 230h4v6h-4zM1330 240h4v4h-4z" fill="#fff"/>
<path d="M1377.7 150.6h3.6v3.6h-3.6zM1505.3 297.6h3.6v3.6h-3.6zM1360.7 156.8h3.6v3.6h-3.6zM1388.3 150.5h3.6v3.6h-3.6zM1425.1 153.8h3.6v3.6h-3.6zM1349.9 159.9h3.6v3.6h-3.6zM1504.3 310.2h3.6v3.6h-3.6zM1332.2 171.0h3.6v3.6h-3.6zM1496.7 206.9h3.6v3.6h-3.6zM1423.2 155.0h3.6v3.6h-3.6zM1487.0 188.7h3.6v3.6h-3.6zM1379.5 152.3h3.6v3.6h-3.6zM1387.1 151.7h3.6v3.6h-3.6zM1507.3 233.2h3.6v3.6h-3.6zM1459.4 168.2h3.6v3.6h-3.6zM1308.1 185.0h3.6v3.6h-3.6zM1439.7 159.9h3.6v3.6h-3.6zM1492.5 196.7h3.6v3.6h-3.6zM1321.5 175.6h3.6v3.6h-3.6zM1317.2 179.7h3.6v3.6h-3.6zM1415.0 155.9h3.6v3.6h-3.6zM1399.1 152.0h3.6v3.6h-3.6zM1501.5 208.6h3.6v3.6h-3.6zM1423.9 154.9h3.6v3.6h-3.6zM1509.8 226.2h3.6v3.6h-3.6zM1509.2 303.1h3.6v3.6h-3.6zM1400.4 153.6h3.6v3.6h-3.6zM1506.2 296.0h3.6v3.6h-3.6zM1449.7 162.7h3.6v3.6h-3.6zM1471.6 178.7h3.6v3.6h-3.6zM1508.1 294.1h3.6v3.6h-3.6zM1479.2 182.0h3.6v3.6h-3.6zM1345.9 162.5h3.6v3.6h-3.6zM1462.8 171.2h3.6v3.6h-3.6zM1368.2 154.8h3.6v3.6h-3.6zM1324.0 176.6h3.6v3.6h-3.6zM1413.9 155.1h3.6v3.6h-3.6zM1503.0 307.0h3.6v3.6h-3.6zM1391.4 150.2h3.6v3.6h-3.6zM1508.8 236.0h3.6v3.6h-3.6zM1514.6 263.9h3.6v3.6h-3.6zM1430.1 155.9h3.6v3.6h-3.6zM1381.3 153.7h3.6v3.6h-3.6zM1512.4 279.2h3.6v3.6h-3.6zM1509.6 285.5h3.6v3.6h-3.6zM1346.4 164.1h3.6v3.6h-3.6zM1510.4 235.2h3.6v3.6h-3.6zM1311.5 187.4h3.6v3.6h-3.6zM1513.9 262.3h3.6v3.6h-3.6zM1510.3 277.2h3.6v3.6h-3.6z" fill="#1c1a34"/>
</g>
<rect x="1057" y="492.5" width="50" height="8" fill="#4c4e68"/><rect x="1060" y="716" width="42" height="6" fill="#55587a"/><rect x="966" y="584" width="3" height="46" fill="#a0a2b8"/>
<g><clipPath id="r7"><rect x="967.5999999999999" y="498.19999999999993" width="226" height="219.2"/></clipPath><clipPath id="c7" clip-path="url(#r7)"><circle cx="1080.6" cy="607.8" r="115.2"/></clipPath>
<g clip-path="url(#c7)"><rect x="964.5999999999999" y="495.19999999999993" width="232" height="225.2" fill="url(#g7)"/>
<g filter="url(#f7)"><ellipse cx="1077" cy="610.5" rx="30" ry="26" fill="url(#h7)"/></g>
</g>
</g>
<rect x="1376" y="492.5" width="44" height="8" fill="#6c7088"/><rect x="1370" y="716" width="52" height="6" fill="#585c80"/><rect x="1510" y="590" width="3.4" height="44" fill="#9a9cb4"/>
<g><clipPath id="r8"><rect x="1284.1" y="498.4" width="227.0" height="218.8"/></clipPath><clipPath id="c8" clip-path="url(#r8)"><circle cx="1397.6" cy="607.8" r="115.7"/></clipPath>
<g clip-path="url(#c8)"><rect x="1281.1" y="495.4" width="233.0" height="224.8" fill="url(#g8)"/>
<g filter="url(#f8)"><ellipse cx="1393.5" cy="618.5" rx="16" ry="18" fill="url(#h8)"/></g>
</g>
</g>
<text x="390.5" y="50.5" font-size="55" text-anchor="start" fill="#1a1a1a" textLength="303" lengthAdjust="spacingAndGlyphs">heating phase</text>
<text x="1005" y="50.5" font-size="55" text-anchor="start" fill="#1a1a1a" textLength="416" lengthAdjust="spacingAndGlyphs">backlighting phase</text>
<text x="442" y="2012" font-size="55" text-anchor="start" fill="#1a1a1a" textLength="817" lengthAdjust="spacingAndGlyphs">(a) schematic of opacity experiments</text>
<path d="M190 74.6L846 74.6" stroke="#1b1b1b" stroke-width="6.6" fill="none" stroke-dasharray="28.4 15.75"/>
<path d="M176 71.6L176 1942" stroke="#1b1b1b" stroke-width="6.6" fill="none" stroke-dasharray="28.4 15.75"/>
<path d="M850.5 73.6L850.5 1950" stroke="#1b1b1b" stroke-width="6.6" fill="none" stroke-dasharray="28.4 15.75"/>
<path d="M190 1949.5L843 1949.5" stroke="#1b1b1b" stroke-width="6.6" fill="none" stroke-dasharray="28.4 15.75"/>
<path d="M886.8 71.6L1534 71.6" stroke="#1b1b1b" stroke-width="6.6" fill="none" stroke-dasharray="28.4 15.75"/>
<path d="M864.6 68.6L864.6 1942" stroke="#1b1b1b" stroke-width="6.6" fill="none" stroke-dasharray="28.4 15.75"/>
<path d="M1540.4 79.4L1540.4 1950" stroke="#1b1b1b" stroke-width="6.6" fill="none" stroke-dasharray="28.4 15.75"/>
<path d="M878.6 1949.5L1531 1949.5" stroke="#1b1b1b" stroke-width="6.6" fill="none" stroke-dasharray="28.4 15.75"/>
<text x="226" y="137" font-size="55" text-anchor="start" fill="#1a1a1a" textLength="47" lengthAdjust="spacingAndGlyphs">6°</text>
<text x="343" y="137" font-size="55" text-anchor="start" fill="#1a1a1a" textLength="130" lengthAdjust="spacingAndGlyphs">0.1 ns</text>
<text x="676.5" y="137" font-size="55" text-anchor="start" fill="#1a1a1a" textLength="125" lengthAdjust="spacingAndGlyphs">1.1 ns</text>
<text x="185" y="185.8" font-size="55" text-anchor="start" fill="#1a1a1a" textLength="152" lengthAdjust="spacingAndGlyphs">images</text>
<text x="223" y="673" font-size="55" text-anchor="start" fill="#1a1a1a" textLength="44" lengthAdjust="spacingAndGlyphs">0°</text>
<text x="185" y="727.8" font-size="55" text-anchor="start" fill="#1a1a1a" textLength="152" lengthAdjust="spacingAndGlyphs">images</text>
<text x="335.7" y="771.5" font-size="55" text-anchor="start" fill="#1a1a1a" textLength="130" lengthAdjust="spacingAndGlyphs">0.2 ns</text>
<text x="664.5" y="771.5" font-size="55" text-anchor="start" fill="#1a1a1a" textLength="124" lengthAdjust="spacingAndGlyphs">1.2 ns</text>
<text x="1036" y="137" font-size="55" text-anchor="start" fill="#1a1a1a" textLength="130" lengthAdjust="spacingAndGlyphs">2.0 ns</text>
<text x="1325.5" y="137" font-size="55" text-anchor="start" fill="#1a1a1a" textLength="130" lengthAdjust="spacingAndGlyphs">3.3 ns</text>
<text x="1036" y="771.5" font-size="55" text-anchor="start" fill="#1a1a1a" textLength="130" lengthAdjust="spacingAndGlyphs">2.2 ns</text>
<text x="1339" y="771.5" font-size="55" text-anchor="start" fill="#1a1a1a" textLength="130" lengthAdjust="spacingAndGlyphs">3.3 ns</text>
<rect x="296" y="354.8" width="30.6" height="170.6" fill="#8c8e96"/>
<rect x="300" y="357.8" width="22.6" height="166.6" fill="url(#cb)"/>
<text x="300" y="374.6" font-size="55" text-anchor="end" fill="#1a1a1a" stroke="#1b1b1b" stroke-width="0.8">0.3</text>
<text x="300" y="426.6" font-size="55" text-anchor="end" fill="#1a1a1a" stroke="#1b1b1b" stroke-width="0.8">0.2</text>
<text x="300" y="481" font-size="55" text-anchor="end" fill="#1a1a1a" stroke="#1b1b1b" stroke-width="0.8">0.1</text>
<text x="300" y="536" font-size="55" text-anchor="end" fill="#1a1a1a" stroke="#1b1b1b" stroke-width="0.8">0</text>
<g transform="translate(221.5 549.5) rotate(-90)"><text x="0" y="0" font-size="55" fill="#1b1b1b" stroke="#1b1b1b" stroke-width="0.9" textLength="249" lengthAdjust="spacingAndGlyphs">10<tspan font-size="30" dy="-17">15</tspan><tspan dy="17"> W/cm</tspan><tspan font-size="30" dy="-17">2</tspan></text><rect x="1" y="1.2" width="40" height="2.4" fill="#1b1b1b"/></g>
<rect x="226" y="318" width="6.2" height="237.5" fill="#1b1b1b"/>
<rect x="621.8" y="357.8" width="26" height="170.6" fill="#8c8e96"/>
<rect x="625.8" y="360.8" width="18" height="166.6" fill="url(#cb)"/>
<text x="624" y="374.6" font-size="55" text-anchor="end" fill="#1a1a1a" stroke="#1b1b1b" stroke-width="0.8">0.6</text>
<text x="624" y="429.4" font-size="55" text-anchor="end" fill="#1a1a1a" stroke="#1b1b1b" stroke-width="0.8">0.4</text>
<text x="624" y="484" font-size="55" text-anchor="end" fill="#1a1a1a" stroke="#1b1b1b" stroke-width="0.8">0.2</text>
<text x="624" y="539" font-size="55" text-anchor="end" fill="#1a1a1a" stroke="#1b1b1b" stroke-width="0.8">0</text>
<g transform="translate(539.5 549.5) rotate(-90)"><text x="0" y="0" font-size="55" fill="#1b1b1b" stroke="#1b1b1b" stroke-width="0.9" textLength="249" lengthAdjust="spacingAndGlyphs">10<tspan font-size="30" dy="-17">15</tspan><tspan dy="17"> W/cm</tspan><tspan font-size="30" dy="-17">2</tspan></text><rect x="1" y="1.2" width="40" height="2.4" fill="#1b1b1b"/></g>
<rect x="548.8" y="318" width="6.2" height="237.5" fill="#1b1b1b"/>
<rect x="984.6" y="348.7" width="32" height="170.4" fill="#8c8e96"/>
<rect x="988.6" y="351.7" width="24" height="166.4" fill="url(#cb)"/>
<text x="984.5" y="365.4" font-size="55" text-anchor="end" fill="#1a1a1a" stroke="#1b1b1b" stroke-width="0.8">1.2</text>
<text x="984.5" y="420.2" font-size="55" text-anchor="end" fill="#1a1a1a" stroke="#1b1b1b" stroke-width="0.8">0.8</text>
<text x="984.5" y="475" font-size="55" text-anchor="end" fill="#1a1a1a" stroke="#1b1b1b" stroke-width="0.8">0.4</text>
<text x="984.5" y="530" font-size="55" text-anchor="end" fill="#1a1a1a" stroke="#1b1b1b" stroke-width="0.8">0</text>
<g transform="translate(913 550) rotate(-90)"><text x="0" y="0" font-size="55" fill="#1b1b1b" stroke="#1b1b1b" stroke-width="0.9" textLength="249" lengthAdjust="spacingAndGlyphs">10<tspan font-size="30" dy="-17">15</tspan><tspan dy="17"> W/cm</tspan><tspan font-size="30" dy="-17">2</tspan></text><rect x="1" y="1.2" width="40" height="2.4" fill="#1b1b1b"/></g>
<rect x="918.6" y="321" width="6.2" height="234.5" fill="#1b1b1b"/>
<rect x="1296.6" y="353" width="27.6" height="167.8" fill="#8c8e96"/>
<rect x="1300.6" y="356" width="19.6" height="163.8" fill="url(#cb4)"/>
<text x="1296" y="365.4" font-size="55" text-anchor="end" fill="#1a1a1a" stroke="#1b1b1b" stroke-width="0.8">2.0</text>
<text x="1296" y="450.6" font-size="55" text-anchor="end" fill="#1a1a1a" stroke="#1b1b1b" stroke-width="0.8">1.0</text>
<text x="1296" y="536" font-size="55" text-anchor="end" fill="#1a1a1a" stroke="#1b1b1b" stroke-width="0.8">0</text>
<g transform="translate(1217.5 547) rotate(-90)"><text x="0" y="0" font-size="55" fill="#1b1b1b" stroke="#1b1b1b" stroke-width="0.9" textLength="249" lengthAdjust="spacingAndGlyphs">10<tspan font-size="30" dy="-17">15</tspan><tspan dy="17"> W/cm</tspan><tspan font-size="30" dy="-17">2</tspan></text><rect x="1" y="1.2" width="40" height="2.4" fill="#1b1b1b"/></g>
<rect x="1224" y="318" width="6.2" height="234" fill="#1b1b1b"/>
<ellipse cx="1411" cy="426" rx="80" ry="45.5" fill="none" stroke="#3a3a3a" stroke-width="3.2"/>
<text x="1351" y="434" font-size="55" text-anchor="start" fill="#1a1a1a" textLength="124" lengthAdjust="spacingAndGlyphs">1 mm</text>
<path d="M1393 452H1426" stroke="#333" stroke-width="3"/><path d="M1385 452l13 -8v16zM1434 452l-13 -8v16z" fill="#333"/>
<g filter="url(#b1)"><path d="M529.5 1233.0L531.6 892.5" stroke="#1b1b1b" stroke-width="8" fill="none"/><path d="M531.7 869.5L543.5 901.6L531.6 892.5L519.5 901.4Z" fill="#1b1b1b"/></g>
<g filter="url(#b1)"><path d="M528.5 1233.0L480.6 945.3" stroke="#1b1b1b" stroke-width="6.2" fill="none"/><path d="M477.0 924.0L491.8 951.9L480.6 945.3L472.1 955.2Z" fill="#1b1b1b"/></g>
<g filter="url(#b1)"><path d="M530.5 1233.0L579.2 944.3" stroke="#1b1b1b" stroke-width="6.2" fill="none"/><path d="M582.8 923.0L587.7 954.2L579.2 944.3L567.9 950.9Z" fill="#1b1b1b"/></g>
<g filter="url(#b1)"><path d="M527.5 1233.0L432.0 995.2" stroke="#1b1b1b" stroke-width="6.2" fill="none"/><path d="M424.0 975.2L444.5 999.3L432.0 995.2L425.9 1006.8Z" fill="#1b1b1b"/></g>
<g filter="url(#b1)"><path d="M531.5 1233.0L630.5 986.0" stroke="#1b1b1b" stroke-width="6.2" fill="none"/><path d="M638.5 966.0L636.6 997.6L630.5 986.0L618.1 990.1Z" fill="#1b1b1b"/></g>
<path d="M522.5 1204L529.5 1240L536.5 1204Z" fill="#1b1b1b"/><rect x="524.5" y="1222" width="10" height="28" fill="#1b1b1b"/>
<text x="421" y="855" font-size="55" text-anchor="start" fill="#1a1a1a" textLength="220.6" lengthAdjust="spacingAndGlyphs">images-0°</text>
<text x="390.6" y="961.2" font-size="55" text-anchor="start" fill="#1a1a1a" textLength="137" lengthAdjust="spacingAndGlyphs" transform="rotate(-23.2 390.6 961.2)">power</text>
<text x="557" y="893" font-size="55" text-anchor="start" fill="#1a1a1a" textLength="222" lengthAdjust="spacingAndGlyphs" transform="rotate(26 557 893)">images-6°</text>
<text x="386.6" y="1011" font-size="55" text-anchor="start" fill="#1a1a1a" textLength="241.5" lengthAdjust="spacingAndGlyphs" transform="rotate(70.5 386.6 1011)">spectrum 1</text>
<text x="583" y="1215" font-size="55" text-anchor="start" fill="#1a1a1a" textLength="247" lengthAdjust="spacingAndGlyphs" transform="rotate(-64.2 583 1215)">spectrum 2</text>
<rect x="419.4" y="1246" width="223.6" height="69.4" fill="#5d92d2"/>
<rect x="447" y="1271" width="168.5" height="16.5" rx="5" fill="#e8323c" stroke="#8a6ac0" stroke-width="2"/>
<text x="179" y="1287.4" font-size="55" text-anchor="start" fill="#1a1a1a" textLength="143" lengthAdjust="spacingAndGlyphs">Fe/Mg</text>
<g filter="url(#b1)"><path d="M316.0 1279.0L418.8 1279.0" stroke="#1b1b1b" stroke-width="4.6" fill="none"/><path d="M434.6 1279.0L412.6 1288.0L418.8 1279.0L412.6 1270.0Z" fill="#1b1b1b"/></g>
<text x="740.5" y="1298" font-size="55" text-anchor="start" fill="#1a1a1a" textLength="73" lengthAdjust="spacingAndGlyphs">CH</text>
<g filter="url(#b1)"><path d="M740.5 1259.4L669.6 1259.4" stroke="#1b1b1b" stroke-width="5" fill="none"/><path d="M653.8 1259.4L675.8 1250.4L669.6 1259.4L675.8 1268.4Z" fill="#1b1b1b"/></g>
<g filter="url(#b1)"><path d="M736.0 1301.0L672.8 1301.0" stroke="#1b1b1b" stroke-width="5" fill="none"/><path d="M657.0 1301.0L679.0 1292.0L672.8 1301.0L679.0 1310.0Z" fill="#1b1b1b"/></g>
<g filter="url(#wav)"><rect x="389" y="1338" width="24" height="590" rx="8" fill="#3f55b4"/><rect x="649" y="1338" width="24" height="590" rx="8" fill="#3f55b4"/></g>
<rect x="408.7" y="1334" width="243.6" height="592" fill="#e6332f"/>
<rect x="404" y="1334" width="6" height="592" fill="#6a3c9a" opacity="0.75"/><rect x="651" y="1334" width="6" height="592" fill="#5a3c9e" opacity="0.75"/>
<rect x="430" y="1316" width="201" height="581" fill="url(#speck)"/>
<rect x="466" y="1315" width="131" height="22" fill="#fff"/>
<rect x="337" y="1315" width="128.5" height="19.8" fill="#1b1b1b"/><rect x="597.5" y="1315" width="118.5" height="19.8" fill="#1b1b1b"/>
<rect x="344.8" y="1913.5" width="64" height="23" fill="#1b1b1b"/><rect x="652" y="1913.5" width="70.5" height="23" fill="#1b1b1b"/><rect x="404" y="1925.7" width="252" height="10.8" fill="#1b1b1b"/>
<g stroke="#1b1b1b" stroke-width="6.4" stroke-dasharray="28 15.3" fill="none"><path d="M458.6 1335V1885"/><path d="M604.2 1335V1885"/></g>
<path d="M432.0 1434.0 L450.1 1422.1 L431.4 1416.4 L463.8 1398.8 L445.1 1393.1 L477.5 1375.6 L458.8 1369.9 L483.8 1346.3" fill="none" stroke="#e0263c" stroke-width="5" stroke-linejoin="miter" filter="url(#b1)"/>
<path d="M497.5 1323.0L492.0 1351.1L475.6 1341.4Z" fill="#e0263c" filter="url(#b1)"/>
<path d="M521.0 1478.0 L531.6 1459.1 L512.3 1462.7 L533.0 1432.1 L513.8 1435.7 L534.5 1405.2 L515.3 1408.7 L536.0 1378.2 L516.8 1381.8 L528.0 1350.0" fill="none" stroke="#e0263c" stroke-width="5" stroke-linejoin="miter" filter="url(#b1)"/>
<path d="M529.5 1323.0L537.5 1350.5L518.5 1349.4Z" fill="#e0263c" filter="url(#b1)"/>
<path d="M627.0 1431.0 L624.5 1409.5 L611.0 1423.6 L609.9 1386.8 L596.4 1400.9 L595.3 1364.1 L581.8 1378.2 L572.2 1345.7" fill="none" stroke="#e0263c" stroke-width="5" stroke-linejoin="miter" filter="url(#b1)"/>
<path d="M557.6 1323.0L580.2 1340.6L564.2 1350.9Z" fill="#e0263c" filter="url(#b1)"/>
<text x="215.4" y="1468.5" font-size="55" text-anchor="start" fill="#1a1a1a" textLength="128" lengthAdjust="spacingAndGlyphs">shock</text>
<g filter="url(#b1)"><path d="M296.0 1479.0L434.5 1537.6" stroke="#1b1b1b" stroke-width="5.4" fill="none"/><path d="M454.4 1546.0L422.5 1544.4L434.5 1537.6L431.1 1524.2Z" fill="#1b1b1b"/></g>
<g filter="url(#b1)"><path d="M462.0 1552.0L490.2 1552.0" stroke="#1b1b1b" stroke-width="4.6" fill="none"/><path d="M506.0 1552.0L484.0 1561.0L490.2 1552.0L484.0 1543.0Z" fill="#1b1b1b"/></g>
<g filter="url(#b1)"><path d="M600.0 1552.0L564.6 1552.0" stroke="#1b1b1b" stroke-width="4.6" fill="none"/><path d="M548.8 1552.0L570.8 1543.0L564.6 1552.0L570.8 1561.0Z" fill="#1b1b1b"/></g>
<circle cx="530.5" cy="1622" r="26" fill="#989a9c" filter="url(#b1)"/>
<text x="530.5" y="1639" font-size="52" text-anchor="middle" fill="#1a1a1a">C</text>
<g filter="url(#b1)"><path d="M409.0 1769.0L446.3 1769.0" stroke="#4460b4" stroke-width="5" fill="none"/><path d="M465.0 1769.0L439.0 1779.0L446.3 1769.0L439.0 1759.0Z" fill="#4460b4"/></g>
<g filter="url(#b1)"><path d="M652.0 1769.0L603.7 1769.0" stroke="#4460b4" stroke-width="5" fill="none"/><path d="M585.0 1769.0L611.0 1759.0L603.7 1769.0L611.0 1779.0Z" fill="#4460b4"/></g>
<text x="485" y="1814.6" font-size="55" text-anchor="start" fill="#1a1a1a" textLength="110" lengthAdjust="spacingAndGlyphs">foam</text>
<text x="299" y="1882" font-size="55" text-anchor="start" fill="#4a64aa" textLength="186" lengthAdjust="spacingAndGlyphs" transform="rotate(-90 299 1882)">tungsten</text>
<text x="367.6" y="1865" font-size="55" text-anchor="start" fill="#4a64aa" textLength="157" lengthAdjust="spacingAndGlyphs" transform="rotate(-90 367.6 1865)">plasma</text>
<text x="710" y="1868" font-size="55" text-anchor="start" fill="#4a64aa" textLength="186" lengthAdjust="spacingAndGlyphs" transform="rotate(-90 710 1868)">tungsten</text>
<text x="778.6" y="1853" font-size="55" text-anchor="start" fill="#4a64aa" textLength="156" lengthAdjust="spacingAndGlyphs" transform="rotate(-90 778.6 1853)">plasma</text>
<path d="M1244 1243L1246 890" stroke="#9a9a9a" stroke-width="9"/>
<g filter="url(#b1)"><path d="M1246.0 1243.0L1247.9 898.6" stroke="#1b1b1b" stroke-width="4.4" fill="none"/><path d="M1248.0 877.0L1257.8 907.1L1247.9 898.6L1237.8 906.9Z" fill="#1b1b1b"/></g>
<g filter="url(#b1)"><path d="M1245.0 1243.0L1198.1 957.3" stroke="#1b1b1b" stroke-width="6.2" fill="none"/><path d="M1194.6 936.0L1209.3 964.0L1198.1 957.3L1189.6 967.2Z" fill="#1b1b1b"/></g>
<g filter="url(#b1)"><path d="M1247.0 1243.0L1297.3 955.7" stroke="#1b1b1b" stroke-width="6.2" fill="none"/><path d="M1301.0 934.4L1305.7 965.7L1297.3 955.7L1286.0 962.2Z" fill="#1b1b1b"/></g>
<g filter="url(#b1)"><path d="M1244.0 1243.0L1148.1 1004.6" stroke="#1b1b1b" stroke-width="6.2" fill="none"/><path d="M1140.0 984.6L1160.5 1008.7L1148.1 1004.6L1141.9 1016.2Z" fill="#1b1b1b"/></g>
<g filter="url(#b1)"><path d="M1248.0 1243.0L1346.4 998.5" stroke="#1b1b1b" stroke-width="6.2" fill="none"/><path d="M1354.5 978.5L1352.6 1010.1L1346.4 998.5L1334.0 1002.6Z" fill="#1b1b1b"/></g>
<path d="M1239.5 1212L1246.5 1250L1253.5 1212Z" fill="#1b1b1b"/><rect x="1241" y="1232" width="11" height="28" fill="#1b1b1b"/>
<text x="1138" y="855" font-size="55" text-anchor="start" fill="#1a1a1a" textLength="222.5" lengthAdjust="spacingAndGlyphs">images-0°</text>
<text x="1089.2" y="961.6" font-size="55" text-anchor="start" fill="#1a1a1a" textLength="137" lengthAdjust="spacingAndGlyphs" transform="rotate(-23.2 1089.2 961.6)">power</text>
<text x="1264" y="893" font-size="55" text-anchor="start" fill="#1a1a1a" textLength="222" lengthAdjust="spacingAndGlyphs" transform="rotate(35.5 1264 893)">images-6°</text>
<text x="1100" y="1031.6" font-size="55" text-anchor="start" fill="#1a1a1a" textLength="245" lengthAdjust="spacingAndGlyphs" transform="rotate(66.7 1100 1031.6)">spectrum 1</text>
<text x="1286" y="1224" font-size="55" text-anchor="start" fill="#1a1a1a" textLength="238.5" lengthAdjust="spacingAndGlyphs" transform="rotate(-62.2 1286 1224)">spectrum 2</text>
<rect x="1149" y="1257" width="210" height="65.4" fill="#5d92d2"/>
<rect x="1177" y="1280" width="158" height="20" rx="5" fill="#e8323c" stroke="#a05ab8" stroke-width="4"/>
<text x="913" y="1301" font-size="55" text-anchor="start" fill="#1a1a1a" textLength="146" lengthAdjust="spacingAndGlyphs">Fe/Mg</text>
<g filter="url(#b1)"><path d="M1077.4 1289.6L1146.9 1289.6" stroke="#1b1b1b" stroke-width="4.6" fill="none"/><path d="M1162.7 1289.6L1140.7 1298.6L1146.9 1289.6L1140.7 1280.6Z" fill="#1b1b1b"/></g>
<text x="1444" y="1308.7" font-size="55" text-anchor="start" fill="#1a1a1a" textLength="75" lengthAdjust="spacingAndGlyphs">CH</text>
<g filter="url(#b1)"><path d="M1441.0 1268.6L1385.5 1268.6" stroke="#1b1b1b" stroke-width="5" fill="none"/><path d="M1369.7 1268.6L1391.7 1259.6L1385.5 1268.6L1391.7 1277.6Z" fill="#1b1b1b"/></g>
<g filter="url(#b1)"><path d="M1438.0 1309.4L1385.5 1309.4" stroke="#1b1b1b" stroke-width="5" fill="none"/><path d="M1369.7 1309.4L1391.7 1300.4L1385.5 1309.4L1391.7 1318.4Z" fill="#1b1b1b"/></g>
<rect x="1092.7" y="1324" width="99" height="19.8" fill="#1b1b1b"/><rect x="1318" y="1324" width="97.3" height="19.8" fill="#1b1b1b"/>
<rect x="1100" y="1919.6" width="309" height="18.4" fill="#1b1b1b"/>
<g filter="url(#wav)"><path d="M1202 1348 L1304 1348 L1308 1500 L1304 1932 L1212 1932 L1200 1700 Z" fill="#4058b4"/><rect x="1204" y="1330" width="22" height="30" fill="#4058b4"/><rect x="1266" y="1330" width="34" height="30" fill="#4058b4"/></g>
<g filter="url(#wav)"><path d="M1220 1352 L1294 1352 L1294 1926 L1222 1926 Z" fill="#6a3aa0" opacity="0.9"/></g>
<g filter="url(#rough)"><path d="M1230 1348 L1270 1346 L1280 1500 L1284 1700 L1278 1918 L1238 1918 L1230 1700 Z" fill="#e8323c"/></g>
<g filter="url(#wav)"><path d="M1214 1360 L1212 1926 M1296 1420 L1294 1930" stroke="#4a7ac8" stroke-width="4" fill="none" opacity="0.8"/></g>
<text x="913" y="1442.7" font-size="55" text-anchor="start" fill="#1a1a1a" textLength="179.7" lengthAdjust="spacingAndGlyphs">aperture</text>
<g filter="url(#b1)"><path d="M1050.0 1412.0L1227.8 1343.7" stroke="#1b1b1b" stroke-width="5.4" fill="none"/><path d="M1248.0 1336.0L1223.9 1357.0L1227.8 1343.7L1216.1 1336.5Z" fill="#1b1b1b"/></g>
<text x="901" y="1604" font-size="55" text-anchor="start" fill="#1a1a1a" textLength="178" lengthAdjust="spacingAndGlyphs">shocked</text>
<text x="934" y="1671" font-size="55" text-anchor="start" fill="#1a1a1a" textLength="111.5" lengthAdjust="spacingAndGlyphs">foam</text>
<g filter="url(#b1)"><path d="M1092.7 1593.3L1230.9 1593.3" stroke="#1b1b1b" stroke-width="7" fill="none"/><path d="M1252.5 1593.3L1222.5 1605.3L1230.9 1593.3L1222.5 1581.3Z" fill="#1b1b1b"/></g>
<text x="1109.4" y="1868" font-size="55" text-anchor="start" fill="#4a64aa" textLength="187" lengthAdjust="spacingAndGlyphs" transform="rotate(-90 1109.4 1868)">tungsten</text>
<text x="1178" y="1853" font-size="55" text-anchor="start" fill="#4a64aa" textLength="154" lengthAdjust="spacingAndGlyphs" transform="rotate(-90 1178 1853)">plasma</text>
<text x="1345" y="1868" font-size="55" text-anchor="start" fill="#4a64aa" textLength="187" lengthAdjust="spacingAndGlyphs" transform="rotate(-90 1345 1868)">tungsten</text>
<text x="1415" y="1853" font-size="55" text-anchor="start" fill="#4a64aa" textLength="154" lengthAdjust="spacingAndGlyphs" transform="rotate(-90 1415 1853)">plasma</text>
<path d="M1451 1375V1890" stroke="#b8b8b8" stroke-width="2.4"/><path d="M1453.8 1375V1890" stroke="#1b1b1b" stroke-width="3.6"/><path d="M1453.4 1343.8l18.5 35h-37zM1453.4 1919.6l18.5 -35h-37z" fill="#1b1b1b"/>
<text x="1499" y="1694" font-size="55" text-anchor="start" fill="#1a1a1a" textLength="148" lengthAdjust="spacingAndGlyphs" transform="rotate(-90 1499 1694)">12 mm</text>
<rect x="2106.4" y="421.3" width="1082.1999999999998" height="980.9000000000001" fill="none" stroke="#1b1b1b" stroke-width="3.4"/>
<path d="M2106.4 665.5h13.5" stroke="#1b1b1b" stroke-width="3.4"/>
<text x="2086.5" y="680.1" font-size="55" text-anchor="end" fill="#1a1a1a">0</text>
<path d="M2106.4 579.7h13.5" stroke="#1b1b1b" stroke-width="3.4"/>
<text x="2086.5" y="594.3000000000001" font-size="55" text-anchor="end" fill="#1a1a1a">0.5</text>
<path d="M2106.4 493.9h13.5" stroke="#1b1b1b" stroke-width="3.4"/>
<text x="2086.5" y="508.5" font-size="55" text-anchor="end" fill="#1a1a1a">1.0</text>
<path d="M2134 665.5H3181" stroke="#acacac" stroke-width="2" stroke-dasharray="5.5 4.5"/>
<path d="M2106.4 912.5h13.5" stroke="#1b1b1b" stroke-width="3.4"/>
<text x="2086.5" y="927.1" font-size="55" text-anchor="end" fill="#1a1a1a">0</text>
<path d="M2106.4 826.7h13.5" stroke="#1b1b1b" stroke-width="3.4"/>
<text x="2086.5" y="841.3000000000001" font-size="55" text-anchor="end" fill="#1a1a1a">0.5</text>
<path d="M2106.4 740.9h13.5" stroke="#1b1b1b" stroke-width="3.4"/>
<text x="2086.5" y="755.5" font-size="55" text-anchor="end" fill="#1a1a1a">1.0</text>
<path d="M2134 912.5H3181" stroke="#acacac" stroke-width="2" stroke-dasharray="5.5 4.5"/>
<path d="M2106.4 1159.7h13.5" stroke="#1b1b1b" stroke-width="3.4"/>
<text x="2086.5" y="1174.3" font-size="55" text-anchor="end" fill="#1a1a1a">0</text>
<path d="M2106.4 1073.9h13.5" stroke="#1b1b1b" stroke-width="3.4"/>
<text x="2086.5" y="1088.5" font-size="55" text-anchor="end" fill="#1a1a1a">0.5</text>
<path d="M2106.4 988.1h13.5" stroke="#1b1b1b" stroke-width="3.4"/>
<text x="2086.5" y="1002.7" font-size="55" text-anchor="end" fill="#1a1a1a">1.0</text>
<path d="M2134 1159.7H3181" stroke="#acacac" stroke-width="2" stroke-dasharray="5.5 4.5"/>
<text x="2086.5" y="1416.8" font-size="55" text-anchor="end" fill="#1a1a1a">0</text>
<path d="M2106.4 1316.4h13.5" stroke="#1b1b1b" stroke-width="3.4"/>
<text x="2086.5" y="1331.0" font-size="55" text-anchor="end" fill="#1a1a1a">0.5</text>
<path d="M2106.4 1230.6h13.5" stroke="#1b1b1b" stroke-width="3.4"/>
<text x="2086.5" y="1245.2" font-size="55" text-anchor="end" fill="#1a1a1a">1.0</text>
<path d="M2307 1402.2v-12.5" stroke="#1b1b1b" stroke-width="3.4"/>
<text x="2307" y="1460" font-size="55" text-anchor="middle" fill="#1a1a1a">80</text>
<path d="M2494.6 1402.2v-12.5" stroke="#1b1b1b" stroke-width="3.4"/>
<text x="2494.6" y="1460" font-size="55" text-anchor="middle" fill="#1a1a1a">90</text>
<path d="M2680.5 1402.2v-12.5" stroke="#1b1b1b" stroke-width="3.4"/>
<text x="2680.5" y="1460" font-size="55" text-anchor="middle" fill="#1a1a1a">100</text>
<path d="M2867.3 1402.2v-12.5" stroke="#1b1b1b" stroke-width="3.4"/>
<text x="2867.3" y="1460" font-size="55" text-anchor="middle" fill="#1a1a1a">110</text>
<path d="M3053.6 1402.2v-12.5" stroke="#1b1b1b" stroke-width="3.4"/>
<text x="3053.6" y="1460" font-size="55" text-anchor="middle" fill="#1a1a1a">120</text>
<text x="2648" y="1525" font-size="55" text-anchor="middle" fill="#1a1a1a" textLength="340" lengthAdjust="spacingAndGlyphs">wavelength/nm</text>
<text x="2654" y="1595.6" font-size="55" text-anchor="middle" fill="#1a1a1a" textLength="416" lengthAdjust="spacingAndGlyphs">(b) Fe opacity data</text>
<g transform="translate(1985.5 1143) rotate(-90)"><text x="0" y="0" font-size="55" fill="#1b1b1b" textLength="462" lengthAdjust="spacingAndGlyphs">opacity/(10<tspan font-size="30" dy="-19">4</tspan><tspan dy="19"> cm</tspan><tspan font-size="30" dy="-19">2</tspan><tspan dy="19">·g</tspan><tspan font-size="30" dy="-19">−3</tspan><tspan dy="19">)</tspan></text></g>
<text x="2141" y="506" font-size="55" fill="#1b1b1b" textLength="543" lengthAdjust="spacingAndGlyphs">2.26×10<tspan font-size="30" dy="-19">6</tspan><tspan dy="19"> K, 4×10</tspan><tspan font-size="30" dy="-19">22</tspan><tspan dy="19"> cm</tspan><tspan font-size="30" dy="-19">−3</tspan></text>
<text x="2141" y="752" font-size="55" fill="#1b1b1b" textLength="584" lengthAdjust="spacingAndGlyphs">2.11×10<tspan font-size="30" dy="-19">6</tspan><tspan dy="19"> K, 3.1×10</tspan><tspan font-size="30" dy="-19">22</tspan><tspan dy="19"> cm</tspan><tspan font-size="30" dy="-19">−3</tspan></text>
<text x="2141" y="999" font-size="55" fill="#1b1b1b" textLength="543" lengthAdjust="spacingAndGlyphs">1.97×10<tspan font-size="30" dy="-19">6</tspan><tspan dy="19"> K, 2×10</tspan><tspan font-size="30" dy="-19">22</tspan><tspan dy="19"> cm</tspan><tspan font-size="30" dy="-19">−3</tspan></text>
<text x="2141" y="1246" font-size="55" fill="#1b1b1b" textLength="585.5" lengthAdjust="spacingAndGlyphs">1.91×10<tspan font-size="30" dy="-19">6</tspan><tspan dy="19"> K, 7.1×10</tspan><tspan font-size="30" dy="-19">21</tspan><tspan dy="19"> cm</tspan><tspan font-size="30" dy="-19">−3</tspan></text>
<path d="M2106.7 636.1L2107.7 636.0L2108.8 635.9L2109.9 635.9L2111.0 635.8L2112.1 635.7L2113.2 635.6L2114.3 635.6L2115.4 635.5L2116.5 635.4L2117.7 635.3L2118.8 635.3L2120.0 635.2L2121.2 635.1L2122.4 635.0L2123.6 634.9L2124.8 634.8L2126.1 634.8L2127.3 634.7L2128.6 634.6L2129.9 634.5L2131.2 634.4L2132.5 634.3L2133.8 634.2L2135.2 634.1L2136.5 634.0L2137.9 633.9L2139.3 633.8L2140.7 633.7L2142.2 633.6L2143.6 633.5L2145.1 633.4L2146.6 633.3L2148.1 633.2L2149.6 633.1L2151.2 633.0L2152.8 632.9L2154.4 632.8L2156.0 632.7L2157.6 632.6L2159.3 632.5L2161.0 632.4L2162.7 632.3L2164.4 632.1L2166.2 632.0L2168.0 631.9L2169.8 631.8L2171.6 631.7L2173.5 631.6L2175.3 631.5L2177.3 631.3L2179.2 631.2L2181.1 631.1L2183.1 631.0L2185.2 630.9L2187.2 630.7L2189.3 630.6L2191.4 630.5L2193.5 630.4L2195.7 630.3L2197.8 630.1L2200.1 630.0L2202.3 629.9L2204.6 629.8L2206.9 629.6L2209.2 629.5L2211.6 629.4L2213.5 629.3L2215.3 629.2L2217.2 629.1L2219.0 629.0L2220.9 628.9L2222.7 628.8L2224.5 628.7L2226.3 628.6L2228.1 628.5L2229.9 628.4L2231.7 628.3L2233.5 628.2L2235.3 628.1L2237.0 628.0L2238.8 627.9L2240.5 627.8L2242.3 627.7L2244.0 627.6L2245.7 627.6L2247.5 627.5L2249.2 627.4L2250.9 627.3L2252.6 627.2L2254.3 627.1L2255.9 627.0L2257.6 626.9L2259.3 626.9L2261.0 626.8L2262.6 626.7L2264.3 626.6L2265.9 626.5L2267.5 626.4L2269.2 626.3L2270.8 626.3L2272.4 626.2L2274.0 626.1L2275.6 626.0L2277.2 625.9L2278.8 625.9L2280.4 625.8L2282.0 625.7L2283.5 625.6L2285.1 625.6L2286.7 625.5L2288.2 625.4L2289.8 625.4L2291.3 625.3L2292.9 625.2L2294.4 625.1L2295.9 625.1L2297.5 625.0L2299.0 624.9L2300.5 624.9L2302.0 624.8L2303.5 624.7L2305.0 624.7L2306.5 624.6L2308.0 624.6L2309.5 624.5L2311.0 624.4L2312.5 624.4L2314.0 624.3L2315.4 624.3L2316.9 624.2L2318.4 624.2L2319.8 624.1L2321.3 624.1L2322.7 624.0L2324.2 624.0L2325.6 623.9L2327.1 623.9L2328.5 623.8L2329.9 623.8L2331.4 623.7L2332.8 623.7L2334.2 623.6L2335.7 623.6L2337.1 623.6L2338.5 623.5L2339.9 623.5L2341.3 623.4L2342.7 623.4L2344.1 623.4L2345.5 623.3L2349.6 623.3L2353.2 623.2L2356.6 623.2L2359.6 623.2L2362.3 623.2L2364.8 623.3L2367.0 623.3L2369.0 623.4L2370.8 623.5L2372.3 623.6L2373.7 623.7L2375.0 623.8L2376.1 624.0L2377.1 624.1L2378.0 624.3L2378.8 624.4L2379.6 624.5L2380.3 624.7L2381.0 624.8L2381.8 624.9L2382.5 625.0L2383.3 625.1L2384.2 625.2L2385.1 625.3L2386.2 625.3L2387.4 625.4L2388.7 625.4L2390.2 625.4L2393.1 625.3L2395.6 625.2L2397.8 625.1L2399.6 624.9L2401.2 624.7L2402.5 624.5L2403.7 624.3L2404.8 624.0L2405.9 623.8L2407.0 623.5L2408.1 623.2L2409.4 622.9L2410.8 622.6L2412.5 622.2L2414.8 621.7L2416.9 621.2L2418.6 620.7L2420.2 620.2L2421.6 619.7L2422.9 619.3L2424.2 618.9L2425.4 618.6L2426.7 618.4L2428.1 618.2L2430.3 618.3L2431.3 618.8L2432.0 619.5L2432.9 620.3L2434.8 620.9L2436.3 621.1L2437.6 621.1L2438.9 621.1L2440.3 621.1L2441.7 621.1L2443.1 621.1L2444.7 621.1L2446.3 621.3L2448.2 621.6L2450.0 622.0L2451.5 622.4L2452.8 622.9L2454.0 623.4L2455.1 623.9L2456.4 624.4L2457.8 624.9L2459.5 625.5L2461.6 626.0L2463.3 626.4L2464.8 626.8L2466.3 627.1L2467.8 627.4L2469.2 627.7L2470.5 628.0L2471.9 628.2L2473.3 628.4L2474.7 628.6L2476.2 628.7L2477.8 628.9L2479.5 628.9L2481.5 629.0L2483.3 629.1L2484.7 629.2L2486.0 629.1L2487.2 629.0L2488.4 628.8L2489.7 628.4L2491.1 627.9L2492.9 627.1L2494.8 626.0L2496.5 624.6L2498.1 623.0L2499.5 621.4L2500.8 619.8L2502.1 618.6L2503.6 617.6L2505.1 617.1L2507.3 617.5L2508.9 619.1L2510.1 621.1L2511.3 623.1L2512.9 624.5L2514.6 625.0L2515.8 625.2L2516.9 624.9L2518.1 624.2L2519.6 623.1L2521.2 621.5L2522.4 619.4L2523.6 617.2L2524.8 615.6L2526.3 614.9L2527.6 615.4L2528.4 616.9L2529.2 618.9L2530.5 620.9L2533.0 622.2L2534.4 622.5L2535.8 622.8L2537.3 622.9L2538.8 622.9L2540.3 622.9L2541.8 622.8L2543.3 622.6L2544.8 622.5L2546.4 622.2L2547.9 622.0L2549.4 621.8L2550.9 621.6L2553.2 620.9L2554.4 620.1L2555.2 619.2L2556.0 618.4L2557.4 618.1L2559.8 618.2L2561.3 618.5L2562.7 619.0L2564.1 619.6L2565.5 620.3L2567.0 621.1L2568.4 621.9L2569.9 622.7L2571.4 623.5L2572.9 624.2L2574.6 624.8L2576.3 625.4L2578.0 625.8L2579.9 626.0L2581.9 626.0L2583.7 625.9L2585.4 625.5L2586.9 625.0L2588.4 624.3L2589.8 623.7L2591.1 623.0L2592.4 622.4L2593.7 621.8L2595.0 621.3L2596.3 621.0L2597.8 620.9L2600.2 621.3L2601.7 622.4L2602.8 623.7L2603.7 625.0L2604.9 625.9L2606.7 626.0L2608.4 625.3L2609.9 624.0L2611.2 622.4L2612.6 620.7L2614.1 619.2L2615.8 618.1L2617.9 617.8L2619.6 618.1L2621.2 619.0L2622.6 620.1L2624.1 621.5L2625.4 623.0L2626.8 624.4L2628.2 625.7L2629.7 626.6L2631.2 627.1L2633.3 627.3L2634.9 626.9L2636.1 626.0L2637.2 624.8L2638.4 623.1L2640.0 621.1L2642.0 618.0L2643.5 614.4L2644.9 610.9L2646.3 608.4L2648.0 607.5L2649.8 609.4L2651.0 613.7L2652.1 618.5L2653.6 622.3L2655.1 624.2L2656.0 625.0L2657.2 624.7L2659.3 623.4L2660.7 622.6L2662.2 621.7L2663.7 620.7L2665.2 619.6L2666.6 618.2L2668.1 616.6L2669.4 614.5L2670.7 612.0L2672.6 603.9L2673.2 595.8L2674.1 590.5L2675.6 591.4L2677.0 596.1L2678.6 598.4L2680.3 594.5L2681.7 588.5L2683.2 585.9L2684.3 589.4L2685.1 596.1L2686.6 603.0L2687.9 606.3L2689.2 608.9L2690.6 611.0L2692.0 612.4L2693.4 613.2L2695.3 612.2L2696.4 609.2L2698.0 606.4L2699.6 605.4L2700.9 605.3L2702.5 604.1L2704.2 600.3L2705.5 596.1L2707.0 595.0L2708.2 598.4L2709.0 604.3L2710.5 610.9L2711.8 614.6L2713.1 617.9L2714.4 620.7L2715.8 622.6L2717.3 623.4L2719.1 620.3L2720.3 614.5L2721.8 612.0L2723.0 616.3L2723.9 623.5L2726.4 629.1L2727.8 630.0L2729.3 630.4L2730.8 630.5L2732.5 630.3L2734.1 629.9L2735.7 629.2L2737.2 628.5L2738.7 627.7L2740.0 626.8L2742.0 624.7L2742.6 622.2L2743.4 617.7L2744.7 610.1L2745.8 602.4L2747.3 599.5L2748.7 605.0L2749.8 614.8L2751.4 623.4L2752.8 627.6L2753.9 628.5L2755.9 626.8L2757.5 624.3L2759.0 620.5L2760.6 616.4L2762.1 612.9L2763.9 610.9L2765.6 611.3L2766.8 613.8L2767.9 617.1L2769.5 620.0L2771.0 622.0L2772.3 624.0L2773.6 625.5L2774.9 625.9L2776.4 624.5L2778.1 620.3L2779.5 614.2L2780.7 607.7L2782.0 601.8L2783.5 595.9L2784.3 592.8L2785.5 593.9L2786.6 600.8L2787.4 610.9L2788.9 618.9L2790.3 622.3L2791.8 623.9L2793.2 622.8L2794.5 617.7L2796.1 597.7L2797.3 574.5L2798.7 555.9L2800.2 554.1L2801.3 571.6L2802.3 596.6L2803.6 613.2L2805.2 609.2L2806.6 594.5L2808.2 585.9L2809.4 591.6L2810.2 603.3L2811.6 613.2L2812.9 616.7L2814.2 618.0L2815.5 617.1L2817.3 614.3L2818.8 610.2L2820.2 604.6L2821.5 598.6L2822.8 593.5L2824.1 590.5L2825.6 593.0L2826.4 599.8L2827.5 601.8L2828.8 596.1L2829.8 586.7L2830.9 574.5L2832.4 553.1L2833.6 541.6L2834.8 552.3L2835.9 574.5L2837.0 594.5L2838.9 610.9L2840.1 616.1L2841.2 619.4L2842.4 621.3L2843.8 622.1L2845.7 622.3L2847.4 621.4L2848.9 619.2L2850.4 616.4L2851.9 613.6L2853.3 611.6L2854.8 610.9L2856.6 614.2L2857.4 620.2L2859.3 624.5L2860.7 625.1L2862.2 625.2L2863.6 624.9L2865.1 624.1L2866.6 623.0L2868.0 621.6L2869.5 620.0L2871.7 616.1L2873.0 611.5L2874.1 607.7L2875.2 606.4L2876.2 613.1L2877.5 622.3L2878.9 623.6L2880.3 623.6L2881.9 623.0L2883.6 622.7L2885.5 623.4L2887.0 625.0L2888.1 626.8L2889.1 628.8L2890.3 631.1L2892.3 633.6L2893.7 635.3L2895.2 636.9L2896.6 638.3L2898.0 639.7L2899.3 640.9L2900.7 642.1L2902.2 643.0L2903.6 643.9L2905.7 644.9L2907.2 645.4L2908.3 645.3L2909.4 644.5L2910.5 642.7L2911.9 633.8L2912.7 626.8L2913.7 629.0L2914.6 634.3L2916.1 637.0L2917.6 634.9L2919.0 630.6L2920.4 626.4L2921.8 624.5L2923.3 628.7L2924.1 635.6L2925.2 637.0L2926.4 630.3L2927.4 619.3L2928.6 606.4L2929.9 591.8L2930.8 579.5L2932.0 576.8L2933.2 588.5L2934.1 608.3L2935.5 626.8L2936.9 637.0L2938.2 641.1L2940.0 643.9L2941.5 646.5L2942.8 648.0L2944.2 647.4L2945.7 643.9L2947.4 634.9L2948.7 623.5L2950.2 610.9L2951.9 597.9L2953.3 587.8L2954.8 585.9L2956.0 596.2L2956.9 613.5L2958.2 629.1L2959.7 637.1L2961.0 639.7L2962.7 640.5L2964.4 642.2L2965.8 641.7L2967.3 633.6L2968.6 614.2L2969.5 591.6L2970.7 578.0L2971.8 581.8L2972.8 596.3L2974.1 610.9L2975.6 620.2L2977.0 626.0L2978.6 629.1L2980.3 627.5L2981.6 622.6L2983.2 620.0L2984.7 623.4L2985.9 629.0L2987.7 631.4L2989.2 629.4L2990.5 625.7L2991.8 621.3L2993.1 617.5L2994.5 615.5L2996.3 617.6L2997.5 622.9L2999.1 625.7L3000.6 623.9L3001.9 620.3L3003.3 616.5L3004.8 614.3L3005.9 614.9L3006.6 617.7L3009.3 621.1L3010.6 622.0L3012.0 622.8L3013.4 623.5L3014.8 624.3L3016.3 625.0L3017.9 625.6L3019.5 626.3L3021.1 627.0L3022.8 627.7L3024.6 628.4L3026.4 629.1L3028.5 630.0L3030.3 630.7L3032.0 631.4L3033.4 632.0L3034.8 632.5L3036.1 633.0L3037.3 633.3L3038.6 633.5L3040.0 633.6L3042.4 633.2L3043.7 631.9L3044.5 630.7L3045.7 630.2L3046.8 631.0L3047.4 632.6L3049.1 634.8L3050.4 635.9L3051.8 637.1L3053.2 638.2L3054.7 639.1L3056.3 639.9L3058.2 640.5L3060.0 640.7L3061.5 640.6L3062.9 640.3L3064.2 639.7L3065.7 639.0L3067.3 638.2L3069.0 637.1L3070.3 636.0L3071.4 634.9L3072.6 633.7L3074.1 632.5L3075.7 631.9L3077.1 632.1L3078.4 632.2L3079.6 631.5L3080.9 629.1L3082.5 622.5L3083.4 614.8L3084.3 606.4L3085.5 595.3L3086.6 590.5L3087.5 593.6L3088.4 600.2L3090.0 605.2L3091.4 606.1L3092.7 605.9L3094.1 604.9L3095.5 603.5L3096.8 601.8L3098.4 598.2L3099.2 594.4L3100.2 592.7L3101.3 596.4L3102.2 602.1L3103.6 603.0L3105.1 598.1L3106.5 590.7L3107.9 582.3L3109.3 574.5L3110.8 566.0L3111.6 560.6L3112.7 560.9L3113.8 569.3L3114.7 582.0L3116.1 592.7L3117.6 596.8L3118.9 598.2L3120.3 597.4L3121.8 595.0L3123.6 590.4L3124.9 584.0L3126.4 574.5L3127.7 561.7L3128.6 549.5L3129.8 543.9L3131.0 548.1L3132.0 559.0L3133.2 572.3L3134.3 585.4L3135.3 596.8L3136.6 603.0L3138.2 600.8L3139.6 592.6L3141.1 583.6L3142.5 575.7L3143.4 569.5L3144.5 567.7L3145.7 572.9L3146.6 582.1L3148.0 590.5L3149.4 594.8L3150.7 596.3L3152.5 596.1L3154.0 595.0L3155.3 592.8L3156.7 590.3L3158.2 588.2L3160.0 588.4L3161.3 589.6L3162.7 585.9L3164.1 575.5L3165.0 562.8L3166.1 551.8L3167.6 543.6L3169.1 546.1L3170.3 554.9L3171.4 566.8L3173.0 576.8L3174.3 580.2L3175.6 580.6L3176.9 579.9L3178.6 580.2L3180.3 581.5L3181.8 582.7L3183.2 583.9L3184.4 585.0L3185.5 585.9" fill="none" stroke="#3d5ca8" stroke-width="2.0" stroke-linejoin="round"/>
<path d="M2106.7 612.0L2108.6 613.0L2110.8 612.9L2113.4 610.5L2116.1 610.5L2118.9 612.4L2121.7 611.9L2124.4 611.5L2126.9 610.3L2129.0 610.7L2131.2 608.1L2133.5 606.1L2135.6 605.0L2138.0 605.9L2140.5 606.1L2143.2 607.4L2145.9 608.5L2148.6 608.8L2151.2 608.1L2153.6 608.0L2155.8 607.6L2159.0 605.8L2159.6 603.9L2161.4 604.3L2163.6 604.6L2165.6 606.2L2168.0 609.2L2171.4 609.4L2173.8 609.8L2176.1 609.1L2178.4 608.6L2180.6 609.3L2182.8 608.6L2184.9 609.3L2187.1 610.1L2190.2 607.7L2191.6 604.6L2193.8 605.4L2195.6 605.6L2196.7 606.5L2198.7 608.2L2202.7 608.2L2204.9 608.1L2207.3 606.6L2209.7 607.7L2212.2 607.1L2214.8 604.4L2217.3 605.3L2219.9 604.7L2222.4 603.5L2224.8 603.3L2227.2 603.0L2230.8 604.3L2232.7 603.8L2234.0 605.6L2235.5 605.1L2238.4 606.9L2240.9 607.0L2243.0 605.6L2245.0 605.6L2247.1 606.1L2249.5 605.3L2252.5 604.4L2256.2 603.7L2258.9 604.0L2261.4 605.1L2263.8 603.9L2266.2 606.1L2268.5 604.7L2270.8 606.7L2273.1 605.4L2275.5 607.3L2277.9 606.9L2280.4 606.5L2283.0 606.7L2286.5 607.0L2288.7 606.8L2290.3 606.0L2291.8 605.5L2293.7 606.1L2296.6 606.9L2300.9 605.8L2303.3 604.3L2305.7 606.1L2308.1 605.8L2310.5 606.2L2312.9 604.3L2315.3 605.7L2317.7 603.8L2320.2 605.3L2322.7 604.2L2325.2 604.0L2327.8 605.5L2330.4 603.4L2333.1 604.3L2335.9 604.9L2338.8 603.0L2342.3 602.6L2345.4 603.9L2348.1 602.2L2350.6 602.5L2352.9 600.2L2355.0 600.6L2357.0 599.6L2359.0 600.4L2361.0 598.5L2363.2 600.4L2365.4 597.6L2367.9 599.2L2371.7 597.0L2374.7 597.6L2377.1 599.1L2379.0 597.6L2381.0 597.9L2383.1 599.5L2385.7 598.9L2388.5 598.4L2390.5 601.3L2392.0 599.6L2393.7 599.7L2395.9 600.6L2399.1 601.1L2401.6 601.1L2403.8 599.0L2406.0 599.0L2408.1 597.6L2410.3 598.0L2412.6 598.1L2415.2 597.3L2418.1 597.1L2421.4 596.1L2424.3 596.0L2426.9 595.2L2429.4 594.2L2431.8 593.3L2434.1 594.2L2436.3 593.1L2438.6 592.3L2440.8 593.1L2443.2 594.2L2445.6 592.2L2448.2 593.4L2451.9 593.2L2454.8 593.9L2457.2 593.6L2459.2 596.3L2461.2 595.1L2463.4 596.4L2466.1 596.1L2469.0 594.9L2471.1 595.9L2472.8 594.1L2474.5 593.3L2476.6 592.7L2479.5 592.8L2482.3 592.7L2484.9 594.5L2487.4 594.6L2489.8 596.4L2492.2 596.7L2494.7 597.2L2497.3 595.2L2499.9 595.3L2500.8 593.9L2501.6 593.7L2503.6 592.9L2508.5 592.7L2510.6 592.3L2512.7 591.1L2514.9 591.6L2517.2 591.9L2519.5 590.6L2521.9 590.7L2524.4 591.8L2526.8 591.2L2529.4 592.9L2531.9 591.8L2534.6 591.5L2537.2 591.8L2539.9 592.1L2542.7 592.1L2545.4 592.9L2548.3 592.8L2551.1 592.4L2554.0 593.2L2556.9 592.0L2559.8 593.6L2563.6 593.4L2567.1 592.4L2570.3 591.2L2573.3 590.9L2576.1 590.5L2578.7 588.5L2581.1 588.9L2583.4 588.6L2585.6 587.1L2587.7 586.4L2589.7 587.8L2591.7 586.2L2593.7 586.3L2595.7 587.1L2597.8 586.1L2602.2 586.0L2603.7 589.7L2604.5 590.0L2606.7 589.7L2609.0 590.7L2611.0 587.8L2613.0 586.6L2615.1 586.3L2617.4 584.6L2620.1 582.4L2622.8 584.0L2625.2 585.1L2627.4 587.0L2629.4 588.0L2631.4 590.4L2633.5 589.9L2636.3 590.0L2637.6 588.5L2640.0 588.2L2642.6 584.9L2645.0 585.6L2647.5 583.7L2650.2 585.0L2652.6 585.9L2654.1 588.2L2655.7 591.2L2658.2 592.0L2660.6 592.2L2662.9 592.8L2665.0 592.8L2667.2 594.5L2669.5 593.1L2672.3 591.7L2673.8 588.0L2676.4 582.4L2679.0 580.7L2681.4 577.7L2683.8 575.1L2686.6 573.4L2688.8 574.2L2690.1 577.3L2691.7 581.3L2694.5 581.9L2696.8 582.7L2699.1 582.1L2701.4 582.5L2703.7 581.1L2706.0 580.5L2708.3 579.6L2710.5 578.1L2713.7 579.6L2715.2 582.9L2717.3 584.1L2719.4 584.3L2721.2 583.7L2723.0 583.2L2725.2 582.7L2727.3 585.9L2728.7 587.8L2730.4 591.9L2733.2 595.2L2735.5 592.3L2737.8 591.1L2740.1 587.7L2742.3 585.2L2744.6 585.3L2746.8 584.5L2749.8 584.8L2751.2 586.8L2753.6 589.9L2756.2 590.0L2758.5 590.5L2760.9 589.7L2763.9 589.2L2766.8 590.6L2769.2 591.3L2771.4 594.1L2774.1 596.2L2776.6 595.7L2778.3 593.4L2780.0 593.3L2782.0 592.2L2784.6 588.0L2786.6 586.5L2788.9 583.5L2790.8 585.4L2792.2 587.4L2794.5 589.5L2796.8 586.4L2799.0 582.0L2801.2 577.1L2803.6 575.5L2806.4 574.4L2808.4 578.1L2810.5 582.4L2812.4 587.3L2815.0 592.8L2817.1 592.5L2819.4 591.2L2821.6 590.1L2824.0 588.3L2826.4 585.3L2829.2 580.2L2831.0 577.4L2833.2 574.1L2835.5 577.6L2837.3 582.1L2840.0 586.6L2842.3 588.1L2844.2 586.4L2846.3 587.4L2849.1 587.9L2851.5 590.5L2853.5 593.6L2855.4 595.1L2857.6 595.6L2860.5 598.3L2863.0 599.5L2865.1 599.8L2867.1 598.6L2869.1 598.4L2871.4 595.9L2874.1 598.4L2876.8 598.4L2879.0 598.8L2880.9 600.4L2882.9 601.4L2885.1 600.5L2887.7 603.8L2890.4 605.1L2892.7 605.1L2894.7 607.8L2896.7 608.7L2898.9 608.9L2901.4 611.7L2904.2 611.2L2906.4 613.3L2908.4 613.4L2910.3 613.0L2912.7 613.4L2915.5 611.6L2917.5 608.7L2919.3 608.4L2921.8 604.1L2924.4 602.8L2926.4 603.6L2928.4 604.5L2930.9 604.5L2933.3 606.1L2935.1 607.4L2937.0 609.3L2940.0 608.2L2942.4 606.4L2944.6 604.3L2946.8 600.0L2949.0 597.2L2951.2 596.7L2953.6 594.2L2956.5 597.1L2958.4 600.9L2960.1 603.8L2962.7 606.8L2965.1 606.8L2967.1 605.3L2969.0 601.2L2971.2 599.4L2974.1 599.2L2976.6 600.0L2978.7 600.8L2980.7 601.7L2982.7 604.9L2985.0 607.5L2987.7 607.2L2990.4 608.3L2992.6 608.2L2994.5 608.5L2996.5 609.4L2998.7 607.6L3001.4 607.9L3004.1 606.6L3006.3 605.7L3008.4 605.5L3010.4 602.1L3012.5 603.2L3015.0 601.3L3017.7 602.2L3019.5 603.2L3021.1 603.7L3023.2 604.1L3026.4 606.1L3029.1 604.8L3031.7 606.8L3034.2 606.8L3036.7 607.6L3039.2 608.7L3041.8 608.6L3044.5 607.8L3047.6 605.8L3049.6 603.7L3051.2 602.2L3053.0 599.8L3055.9 599.0L3058.4 600.7L3060.7 598.9L3062.9 601.5L3065.0 601.2L3067.2 602.2L3069.4 602.9L3071.8 603.0L3075.1 604.8L3077.2 604.6L3079.1 605.5L3082.0 604.7L3084.8 605.7L3087.1 605.1L3089.3 602.9L3091.7 602.0L3094.5 600.7L3097.4 596.5L3099.7 593.2L3101.7 590.7L3103.7 587.8L3105.9 586.4L3108.6 581.9L3110.1 579.6L3112.7 579.9L3115.0 578.9L3117.0 581.9L3119.1 583.2L3121.4 584.0L3124.1 585.6L3126.6 583.6L3128.5 583.5L3130.3 581.7L3132.4 578.9L3135.5 578.4L3137.8 579.1L3139.9 579.0L3141.9 579.7L3143.8 580.9L3146.0 581.8L3148.4 581.9L3151.4 582.6L3154.4 580.4L3157.2 580.5L3159.8 579.6L3162.2 577.8L3164.6 577.0L3167.0 575.9L3169.5 578.0L3172.9 577.9L3174.8 580.6L3176.4 584.4L3178.6 585.1L3181.5 588.9L3183.9 588.0L3186.0 588.5L3187.7 590.1" fill="none" stroke="#d8403a" stroke-width="2.0" stroke-linejoin="round"/>
<path d="M2304.2 598.6V614.9M2297.7 598.6h13M2297.7 614.9h13" stroke="#d8403a" stroke-width="2.6" fill="none"/>
<path d="M2485.0 585.2V602.1M2478.5 585.2h13M2478.5 602.1h13" stroke="#d8403a" stroke-width="2.6" fill="none"/>
<path d="M2676.4 566.6V584.8M2669.9 566.6h13M2669.9 584.8h13" stroke="#d8403a" stroke-width="2.6" fill="none"/>
<path d="M2848.0 584.8V601.8M2841.5 584.8h13M2841.5 601.8h13" stroke="#d8403a" stroke-width="2.6" fill="none"/>
<path d="M3021.8 592.7V613.2M3015.3 592.7h13M3015.3 613.2h13" stroke="#d8403a" stroke-width="2.6" fill="none"/>
<path d="M2106.7 882.8L2107.8 882.7L2108.8 882.6L2109.9 882.5L2111.1 882.4L2112.2 882.4L2113.4 882.3L2114.5 882.2L2115.7 882.1L2117.0 882.0L2118.2 881.9L2119.5 881.8L2120.7 881.7L2122.0 881.6L2123.3 881.5L2124.7 881.4L2126.0 881.3L2127.4 881.2L2128.7 881.1L2130.1 880.9L2131.5 880.8L2132.9 880.7L2134.4 880.6L2135.8 880.5L2137.3 880.4L2138.8 880.3L2140.3 880.1L2141.8 880.0L2143.3 879.9L2144.8 879.8L2146.3 879.7L2147.9 879.5L2149.5 879.4L2151.0 879.3L2152.6 879.2L2154.2 879.0L2155.8 878.9L2157.4 878.8L2159.1 878.6L2160.7 878.5L2162.4 878.4L2164.0 878.3L2165.7 878.1L2167.3 878.0L2169.0 877.9L2170.7 877.7L2172.4 877.6L2174.1 877.5L2175.8 877.3L2177.5 877.2L2179.2 877.1L2181.0 876.9L2182.7 876.8L2184.4 876.7L2186.2 876.5L2187.9 876.4L2189.7 876.3L2191.4 876.1L2193.2 876.0L2195.0 875.9L2196.7 875.7L2198.5 875.6L2200.3 875.5L2202.0 875.3L2203.8 875.2L2205.6 875.1L2207.3 874.9L2209.1 874.8L2210.9 874.7L2212.7 874.5L2214.5 874.4L2216.2 874.3L2218.0 874.2L2219.8 874.0L2221.6 873.9L2223.3 873.8L2225.1 873.7L2226.9 873.5L2228.6 873.4L2230.4 873.3L2232.1 873.2L2233.9 873.1L2235.7 872.9L2237.4 872.8L2239.1 872.7L2240.9 872.6L2242.6 872.5L2244.3 872.4L2246.1 872.2L2247.8 872.1L2249.5 872.0L2251.2 871.9L2252.9 871.8L2254.6 871.7L2256.2 871.6L2259.0 871.4L2261.7 871.3L2264.3 871.1L2266.8 871.0L2269.3 870.8L2271.7 870.7L2274.0 870.6L2276.2 870.4L2278.4 870.3L2280.5 870.2L2282.5 870.1L2284.5 870.0L2286.4 869.9L2288.2 869.8L2290.0 869.7L2291.8 869.7L2293.5 869.6L2295.1 869.5L2296.7 869.4L2298.3 869.4L2299.8 869.3L2301.3 869.2L2302.8 869.2L2304.2 869.1L2305.6 869.1L2306.9 869.0L2308.2 869.0L2309.5 869.0L2310.8 868.9L2312.1 868.9L2313.3 868.9L2314.6 868.8L2315.8 868.8L2317.0 868.8L2318.2 868.7L2319.4 868.7L2320.6 868.7L2321.8 868.7L2322.9 868.6L2324.1 868.6L2325.3 868.6L2326.5 868.6L2327.8 868.6L2329.0 868.5L2330.2 868.5L2331.5 868.5L2332.8 868.5L2334.1 868.5L2335.4 868.4L2336.7 868.4L2338.1 868.4L2339.5 868.4L2341.0 868.3L2342.5 868.3L2344.0 868.3L2345.5 868.3L2348.6 868.2L2351.4 868.2L2354.1 868.1L2356.5 868.1L2358.8 868.1L2360.9 868.2L2362.9 868.2L2364.7 868.2L2366.4 868.3L2368.0 868.3L2369.5 868.4L2370.8 868.4L2372.1 868.5L2373.4 868.6L2374.6 868.6L2375.7 868.7L2376.8 868.7L2377.9 868.8L2379.0 868.9L2380.0 868.9L2381.1 868.9L2382.2 869.0L2383.4 869.0L2384.6 869.0L2385.9 869.0L2387.2 869.0L2388.7 869.0L2390.2 868.9L2393.1 868.8L2395.6 868.7L2397.8 868.5L2399.6 868.4L2401.2 868.2L2402.5 868.0L2403.7 867.8L2404.8 867.6L2405.9 867.4L2407.0 867.1L2408.1 866.9L2409.4 866.6L2410.8 866.3L2412.5 866.0L2414.8 865.6L2416.9 865.2L2418.6 864.7L2420.2 864.3L2421.6 863.9L2422.9 863.6L2424.2 863.3L2425.4 863.0L2426.7 862.8L2428.1 862.7L2430.3 862.8L2431.3 863.2L2432.0 863.8L2432.9 864.5L2434.8 864.9L2436.3 865.0L2437.6 865.0L2438.9 864.9L2440.3 864.8L2441.7 864.7L2443.1 864.6L2444.7 864.6L2446.3 864.7L2448.2 864.9L2450.0 865.3L2451.5 865.7L2452.8 866.2L2454.0 866.7L2455.1 867.2L2456.4 867.7L2457.8 868.3L2459.5 868.8L2461.6 869.4L2463.3 869.8L2464.8 870.1L2466.3 870.4L2467.8 870.7L2469.2 871.0L2470.5 871.2L2471.9 871.4L2473.3 871.6L2474.7 871.8L2476.2 871.9L2477.8 872.0L2479.5 872.1L2481.5 872.2L2483.3 872.3L2484.7 872.4L2486.0 872.4L2487.2 872.4L2488.4 872.2L2489.7 871.8L2491.1 871.3L2492.9 870.5L2494.8 869.2L2496.5 867.7L2498.1 865.9L2499.5 864.1L2500.8 862.4L2502.1 861.0L2503.6 859.9L2505.1 859.3L2507.3 859.7L2508.9 861.3L2510.1 863.5L2511.3 865.7L2512.9 867.1L2514.6 867.8L2515.8 868.0L2516.9 867.8L2518.1 867.1L2519.6 866.0L2521.2 864.3L2522.4 862.1L2523.6 859.8L2524.8 858.0L2526.3 857.1L2527.5 857.5L2528.0 858.9L2528.6 860.7L2530.1 862.5L2533.0 863.8L2534.4 864.0L2535.7 864.1L2537.1 864.1L2538.5 864.0L2540.0 863.9L2541.5 863.8L2543.0 863.6L2544.5 863.4L2546.1 863.2L2547.7 863.0L2549.4 862.8L2551.0 862.7L2552.7 862.6L2554.5 862.6L2556.2 862.7L2558.0 862.9L2559.8 863.1L2562.1 863.6L2564.0 864.2L2565.7 864.9L2567.3 865.7L2568.7 866.5L2570.0 867.3L2571.2 868.2L2572.4 869.0L2573.7 869.8L2575.0 870.5L2576.5 871.1L2578.1 871.7L2579.9 872.1L2581.9 872.3L2583.7 872.3L2585.4 872.2L2586.9 872.0L2588.4 871.7L2589.8 871.3L2591.1 870.8L2592.4 870.4L2593.7 870.0L2595.0 869.7L2596.3 869.5L2597.8 869.4L2600.2 869.7L2601.7 870.5L2602.8 871.4L2603.7 872.1L2604.9 872.3L2606.7 871.6L2608.4 870.1L2609.9 867.9L2611.2 865.3L2612.6 862.7L2614.1 860.4L2615.8 858.8L2617.9 858.2L2619.6 858.6L2621.2 859.7L2622.6 861.4L2624.1 863.3L2625.4 865.4L2626.8 867.5L2628.2 869.3L2629.7 870.8L2631.2 871.6L2633.3 872.0L2634.9 871.8L2636.1 870.9L2637.2 869.5L2638.4 867.5L2640.0 865.0L2642.0 861.0L2643.5 856.2L2644.9 851.6L2646.3 848.2L2648.0 846.8L2649.8 849.1L2651.0 854.4L2652.1 860.5L2653.6 865.0L2655.1 867.0L2656.0 867.3L2657.2 866.5L2659.3 865.0L2660.7 864.2L2662.2 863.4L2663.7 862.6L2665.2 861.6L2666.6 860.4L2668.1 858.9L2669.4 857.1L2670.7 854.8L2672.6 847.1L2673.2 839.3L2674.1 834.3L2675.6 835.3L2677.0 839.8L2678.6 842.3L2680.3 839.1L2681.7 833.9L2683.2 832.0L2684.3 835.9L2685.1 842.4L2686.6 849.1L2687.9 852.2L2689.2 854.6L2690.6 856.4L2692.0 857.6L2693.4 858.2L2695.0 857.0L2695.9 854.0L2698.0 851.4L2699.4 850.6L2700.9 849.9L2702.4 849.3L2703.9 849.0L2705.4 848.9L2706.8 849.3L2708.2 850.2L2710.0 853.9L2710.5 858.7L2711.6 863.9L2713.0 867.4L2714.4 870.2L2715.8 872.1L2717.3 873.0L2718.6 870.7L2719.4 866.6L2720.7 865.0L2721.8 867.4L2722.7 871.6L2724.0 875.9L2726.4 878.6L2727.8 879.0L2729.4 879.0L2731.0 878.7L2732.6 878.1L2734.2 877.2L2735.7 876.3L2737.3 875.2L2738.7 874.1L2740.0 873.0L2742.0 870.5L2742.6 868.3L2743.4 863.9L2744.7 855.7L2745.8 847.4L2747.3 844.5L2748.7 851.0L2749.8 862.4L2751.4 871.8L2752.8 876.0L2754.0 876.3L2755.9 873.0L2757.3 868.9L2758.5 863.3L2759.8 857.5L2761.1 852.3L2762.7 849.1L2764.3 848.5L2765.6 849.9L2766.8 852.5L2768.1 855.6L2769.5 858.2L2771.2 861.6L2772.4 865.2L2773.6 867.0L2775.2 865.0L2776.8 860.2L2778.2 853.4L2779.5 845.7L2780.8 837.9L2782.0 830.9L2783.8 817.7L2785.0 817.3L2786.2 829.4L2787.3 846.8L2788.9 860.5L2790.4 865.2L2791.8 866.3L2793.2 863.7L2794.5 857.0L2796.1 834.2L2797.3 808.2L2798.7 787.2L2800.2 785.5L2801.3 805.9L2802.3 834.8L2803.6 853.6L2805.2 848.1L2806.6 830.1L2808.2 819.5L2809.4 826.6L2810.2 841.2L2811.6 853.6L2812.9 858.2L2814.2 860.0L2815.5 859.2L2817.3 855.9L2818.8 850.8L2820.2 843.7L2821.5 836.2L2822.8 829.9L2824.1 826.4L2825.6 830.4L2826.4 840.2L2827.5 843.4L2828.8 836.0L2829.8 823.4L2830.9 808.2L2832.4 784.1L2833.6 771.8L2834.8 783.2L2835.9 808.2L2837.0 833.0L2838.9 853.6L2840.1 859.6L2841.2 863.1L2842.4 864.7L2843.8 865.1L2845.7 865.0L2847.4 863.9L2848.9 861.4L2850.4 858.3L2851.9 855.2L2853.3 853.1L2854.8 852.5L2856.6 856.9L2857.4 864.3L2859.3 869.5L2860.7 870.2L2862.2 870.1L2863.6 869.5L2865.1 868.4L2866.6 866.9L2868.0 865.0L2869.5 862.7L2871.7 857.5L2873.0 851.5L2874.1 846.5L2875.2 844.5L2876.2 852.7L2877.5 863.9L2878.9 865.3L2880.3 865.1L2881.9 864.1L2883.6 863.4L2885.5 863.9L2887.1 865.3L2888.3 866.9L2889.3 868.9L2890.5 871.2L2892.3 874.1L2893.9 876.7L2895.4 879.2L2896.7 881.7L2898.1 883.9L2899.6 886.0L2901.4 887.7L2903.4 889.6L2905.1 891.2L2906.5 891.9L2907.9 891.3L2909.3 888.9L2911.0 879.7L2911.7 868.4L2912.7 861.6L2913.8 865.3L2914.7 874.3L2916.1 878.6L2917.6 874.5L2919.0 866.6L2920.4 859.1L2921.8 855.9L2923.3 863.8L2924.1 877.0L2925.2 880.9L2926.4 870.4L2927.4 852.5L2928.6 830.9L2929.9 806.0L2930.8 784.5L2932.0 779.8L2933.3 800.7L2934.2 835.8L2935.5 867.3L2936.5 882.1L2937.3 885.7L2938.9 887.7L2940.2 890.7L2941.5 893.3L2942.8 894.4L2944.2 893.0L2945.7 887.7L2947.5 872.2L2948.7 852.4L2950.2 830.9L2951.9 809.0L2953.3 792.3L2954.8 790.0L2956.0 809.1L2956.9 840.1L2958.2 867.3L2959.7 879.5L2961.0 881.4L2962.7 880.9L2964.4 883.9L2965.8 884.3L2967.3 871.8L2968.6 840.1L2969.5 802.7L2970.7 779.8L2971.8 784.9L2972.8 807.4L2974.1 830.9L2975.6 846.7L2977.0 857.4L2978.6 863.9L2980.3 862.3L2981.6 855.0L2983.2 851.4L2984.7 856.7L2985.9 865.3L2987.7 869.5L2989.2 867.3L2990.5 862.3L2991.8 856.4L2993.1 851.4L2994.5 849.1L2996.3 853.3L2997.5 861.9L2999.1 867.3L3000.5 865.8L3001.7 861.3L3002.9 856.7L3004.8 854.8L3006.3 855.9L3007.5 858.5L3008.7 862.0L3010.4 865.8L3012.7 869.5L3014.2 871.3L3015.7 872.9L3017.0 874.3L3018.4 875.5L3019.8 876.6L3021.2 877.7L3022.8 878.7L3024.5 879.8L3026.4 880.9L3028.2 881.9L3029.9 882.7L3031.5 883.2L3032.9 883.6L3034.2 883.9L3035.6 884.2L3037.0 884.5L3038.4 884.9L3040.0 885.5L3042.1 886.4L3043.6 887.1L3044.7 887.8L3045.8 888.5L3047.2 889.2L3049.1 890.0L3050.7 890.7L3052.1 891.3L3053.3 891.9L3054.6 892.5L3055.8 892.9L3057.2 893.2L3058.7 893.4L3060.5 893.4L3062.2 893.2L3063.7 892.9L3065.1 892.4L3066.3 891.8L3067.6 891.1L3068.8 890.4L3070.2 889.6L3071.8 888.9L3073.9 888.6L3075.6 889.4L3077.0 890.2L3078.3 890.3L3079.6 888.6L3080.9 884.3L3082.7 870.3L3083.5 853.2L3084.3 835.5L3085.5 812.3L3086.6 805.9L3087.7 818.7L3088.7 839.7L3090.0 858.2L3091.1 866.8L3092.0 868.4L3093.4 867.3L3094.9 864.8L3096.2 860.2L3097.6 855.7L3099.1 853.6L3100.4 856.8L3101.2 862.8L3102.5 866.1L3104.0 866.0L3105.3 864.7L3106.7 861.0L3108.2 853.6L3109.7 839.0L3110.7 822.7L3111.6 808.2L3112.4 794.1L3113.2 796.8L3114.3 823.5L3116.1 853.6L3117.5 861.4L3118.8 864.2L3120.1 864.0L3121.8 862.7L3123.5 860.6L3124.8 856.8L3126.1 852.0L3127.5 846.8L3128.9 838.5L3129.7 831.4L3130.9 830.9L3132.4 841.9L3133.7 858.0L3135.5 868.4L3137.0 867.9L3138.3 862.3L3139.6 855.0L3141.1 849.1L3142.8 844.6L3143.9 842.5L3145.7 843.4L3147.1 846.0L3148.3 850.0L3149.5 854.4L3150.9 858.2L3152.5 860.5L3154.1 860.4L3155.5 858.7L3156.8 856.1L3158.0 853.4L3159.3 851.4L3160.9 851.1L3161.7 852.0L3162.7 849.1L3164.0 840.9L3165.0 830.9L3166.1 821.8L3167.2 813.6L3168.4 813.9L3169.8 820.6L3171.1 830.2L3173.0 837.7L3174.4 839.2L3175.6 837.9L3176.9 836.0L3178.6 835.5L3180.3 836.6L3181.8 838.3L3183.2 840.2L3184.4 842.0L3185.5 843.4" fill="none" stroke="#3d5ca8" stroke-width="2.0" stroke-linejoin="round"/>
<path d="M2106.7 857.1L2108.4 856.5L2110.4 856.4L2112.5 857.3L2114.9 856.9L2117.5 856.9L2120.3 857.9L2123.4 859.3L2126.8 859.0L2129.8 858.8L2132.6 857.3L2135.2 858.0L2137.7 857.2L2140.0 856.7L2142.3 856.3L2144.6 856.3L2146.8 857.9L2149.1 857.3L2152.4 856.2L2153.6 855.1L2154.7 852.7L2158.0 852.8L2160.4 853.9L2162.7 854.6L2165.1 855.6L2167.6 856.4L2170.1 855.1L2172.6 857.2L2175.2 857.9L2177.7 858.0L2180.4 857.4L2183.5 858.0L2185.4 856.4L2186.7 857.7L2188.1 856.7L2190.2 855.2L2193.8 854.3L2196.2 856.1L2198.7 855.6L2201.2 856.8L2203.7 857.3L2206.3 857.0L2208.8 857.4L2211.2 858.4L2213.7 858.5L2216.0 858.2L2218.3 858.8L2220.5 860.1L2224.1 857.3L2225.0 855.6L2225.9 855.3L2229.5 853.2L2231.6 853.6L2233.7 853.4L2235.8 853.0L2238.0 854.8L2240.2 852.9L2242.6 853.6L2245.0 853.3L2247.5 854.6L2250.2 853.9L2253.1 854.3L2256.2 855.5L2259.4 854.6L2262.3 855.4L2265.0 856.5L2267.5 854.7L2269.9 854.8L2272.3 855.5L2274.5 857.0L2276.7 856.7L2278.8 855.7L2280.9 855.8L2283.0 855.1L2287.1 854.3L2288.6 851.1L2289.6 850.8L2292.0 850.3L2294.0 850.8L2295.4 851.1L2296.8 853.0L2298.6 851.9L2301.3 853.7L2305.4 856.1L2307.6 855.7L2309.8 854.7L2311.9 856.0L2314.1 855.0L2316.2 855.3L2318.4 853.7L2320.6 853.1L2323.0 853.4L2325.4 852.2L2328.0 852.5L2330.7 853.6L2333.5 851.5L2336.6 850.2L2339.6 849.9L2342.4 849.8L2345.0 851.0L2347.4 849.4L2349.7 848.8L2351.9 847.9L2354.0 849.8L2356.2 847.9L2358.3 847.0L2360.5 846.3L2362.8 845.9L2365.2 846.0L2367.9 847.1L2371.4 845.5L2374.3 845.2L2376.7 846.5L2378.8 846.0L2380.7 848.2L2382.6 846.2L2384.8 847.4L2387.2 848.2L2390.2 847.3L2393.2 848.7L2395.8 847.3L2398.1 846.5L2400.3 846.8L2402.4 845.6L2404.5 846.4L2406.9 845.7L2409.5 847.2L2412.5 846.8L2415.5 845.7L2418.0 844.2L2420.1 844.5L2422.1 844.2L2424.1 843.9L2426.2 843.8L2428.6 845.3L2431.4 843.4L2434.8 843.2L2437.6 845.6L2440.1 844.9L2442.6 846.3L2445.0 845.1L2447.3 846.8L2449.5 846.5L2451.8 847.2L2454.0 847.5L2456.3 847.1L2458.7 846.3L2461.2 846.7L2463.8 848.5L2467.4 848.4L2470.2 848.2L2472.4 846.3L2474.3 846.7L2476.1 846.5L2478.2 845.5L2480.7 845.2L2483.9 843.8L2486.6 843.5L2488.9 843.0L2491.0 841.2L2492.9 842.3L2494.7 841.8L2496.7 839.0L2499.0 840.8L2501.6 840.4L2504.7 839.3L2508.5 837.4L2511.2 839.5L2513.9 837.6L2516.5 839.9L2519.1 839.4L2521.6 838.1L2524.2 838.7L2526.7 840.2L2529.2 840.4L2531.6 841.2L2534.1 841.9L2536.5 840.3L2539.0 839.8L2541.5 842.2L2543.9 839.8L2546.4 841.8L2550.5 838.9L2553.4 839.4L2555.6 837.8L2557.3 836.3L2558.8 833.9L2560.5 833.4L2562.6 830.9L2565.4 831.9L2568.2 831.5L2570.7 833.9L2573.0 835.0L2575.2 835.9L2577.3 837.8L2579.5 838.2L2581.7 839.8L2584.0 842.5L2586.6 843.0L2589.6 844.3L2592.0 843.4L2593.8 841.6L2595.5 841.2L2597.3 841.2L2599.5 839.3L2602.2 836.9L2605.2 837.9L2607.8 836.6L2610.2 833.5L2612.5 833.6L2614.8 832.2L2617.3 832.6L2620.1 830.9L2623.2 830.9L2625.6 832.2L2627.7 834.5L2629.6 833.3L2631.4 834.3L2633.5 836.2L2636.2 837.2L2637.5 835.8L2640.0 834.1L2642.3 833.5L2644.4 831.1L2646.6 827.1L2648.8 827.7L2651.4 825.6L2654.0 827.7L2655.9 832.6L2657.8 835.2L2660.5 838.5L2663.0 837.4L2665.2 839.2L2667.4 836.5L2669.5 834.8L2671.8 833.2L2674.6 826.5L2676.2 820.0L2678.6 816.1L2681.0 814.6L2683.2 813.8L2685.3 816.8L2687.7 819.7L2690.3 822.8L2692.0 826.6L2694.5 827.5L2696.8 825.2L2698.7 823.0L2700.8 821.8L2703.6 819.2L2706.1 820.6L2708.3 822.4L2710.4 823.1L2712.5 825.1L2715.0 826.6L2717.8 827.2L2719.7 829.5L2721.6 829.2L2724.1 832.0L2726.7 833.2L2728.8 837.7L2730.8 840.0L2733.2 840.3L2735.8 837.5L2737.6 832.1L2740.0 829.3L2742.2 826.0L2744.1 825.1L2745.9 822.9L2748.0 823.0L2750.0 825.9L2751.3 831.6L2753.6 832.3L2756.1 833.5L2758.6 829.9L2761.1 828.0L2763.9 826.0L2766.3 826.9L2767.9 826.7L2769.6 828.9L2771.8 830.9L2774.3 829.1L2776.5 830.4L2778.5 828.7L2780.9 825.8L2783.6 817.9L2785.4 809.6L2787.7 807.1L2790.3 808.9L2792.3 814.9L2794.5 819.2L2796.8 818.3L2799.1 811.8L2801.2 809.3L2803.1 805.7L2805.9 806.1L2808.3 811.2L2810.5 817.2L2812.6 824.0L2815.0 825.4L2817.6 825.3L2819.4 820.0L2821.8 815.6L2824.1 814.8L2826.1 816.4L2827.9 815.8L2829.8 816.1L2831.9 806.1L2833.2 797.1L2834.2 791.7L2835.5 791.7L2837.4 799.8L2840.0 812.0L2842.2 818.7L2844.2 823.8L2846.8 827.7L2848.9 827.8L2850.7 825.2L2852.5 823.7L2854.8 824.9L2857.0 826.3L2858.8 830.6L2860.5 833.0L2862.7 834.6L2865.1 833.5L2867.0 829.7L2868.8 824.8L2870.7 820.3L2873.0 818.3L2875.2 818.7L2877.1 820.6L2878.9 824.7L2880.8 831.3L2883.2 834.5L2885.3 834.7L2887.0 832.4L2888.7 830.1L2891.1 829.8L2893.9 832.8L2896.2 836.1L2898.6 841.8L2901.4 845.6L2903.9 849.0L2905.7 850.6L2907.4 852.9L2909.3 853.1L2911.6 851.6L2913.1 843.8L2915.0 838.5L2917.0 832.0L2918.5 826.6L2920.7 823.0L2923.1 818.5L2925.2 818.4L2927.5 815.2L2929.9 806.1L2932.0 802.4L2934.0 809.8L2935.6 819.8L2937.7 829.8L2939.8 839.7L2941.4 842.2L2943.4 843.3L2945.4 836.8L2947.1 827.1L2949.1 815.4L2951.2 804.1L2952.9 793.8L2954.8 789.4L2957.0 799.7L2959.3 817.8L2961.2 827.8L2962.9 834.5L2965.0 834.3L2967.1 822.7L2968.9 808.3L2970.7 794.5L2972.3 789.6L2974.1 796.0L2976.2 803.9L2978.3 809.6L2980.9 817.0L2983.3 822.4L2985.3 825.2L2987.7 825.9L2990.2 827.7L2992.1 828.3L2994.5 828.5L2997.0 833.5L2998.9 834.1L3001.4 837.8L3003.7 833.6L3005.5 830.0L3008.2 830.7L3010.4 832.9L3012.2 835.2L3014.2 840.3L3017.3 843.3L3019.6 845.1L3021.8 843.9L3023.9 845.3L3026.0 845.4L3028.3 844.5L3030.9 845.6L3033.8 847.1L3036.1 847.3L3038.1 850.3L3040.1 852.0L3042.3 852.7L3045.2 852.9L3046.9 854.5L3049.1 854.7L3051.3 851.1L3053.0 849.4L3055.9 849.0L3058.2 849.2L3060.3 849.6L3062.5 853.3L3064.7 854.2L3067.3 856.8L3070.2 856.9L3072.4 855.9L3074.3 856.0L3076.4 851.7L3078.9 840.1L3080.9 827.2L3082.9 816.0L3084.6 806.4L3086.6 802.4L3089.0 811.1L3091.1 826.9L3093.1 836.2L3095.7 840.1L3097.7 841.7L3099.7 839.3L3101.6 836.0L3103.6 832.6L3106.1 817.5L3108.2 801.5L3110.1 791.8L3111.8 784.2L3113.9 782.4L3115.8 787.0L3117.4 798.4L3119.5 809.2L3121.8 818.0L3123.8 823.7L3126.4 828.7L3128.5 826.8L3130.2 821.8L3132.0 814.3L3134.3 809.1L3136.9 799.9L3139.1 791.1L3141.1 782.3L3143.4 780.4L3145.8 781.3L3147.3 790.9L3149.1 798.2L3151.3 805.0L3153.6 808.1L3156.0 807.1L3158.1 805.0L3160.5 798.6L3162.5 787.0L3165.0 776.6L3167.2 772.0L3169.4 771.6L3171.6 773.4L3174.1 774.8L3176.7 779.8L3178.6 784.8L3180.9 792.8L3183.7 798.7L3186.0 802.3L3187.7 804.6" fill="none" stroke="#d8403a" stroke-width="2.0" stroke-linejoin="round"/>
<path d="M2257.4 846.6V863.1M2250.9 846.6h13M2250.9 863.1h13" stroke="#d8403a" stroke-width="2.6" fill="none"/>
<path d="M2438.8 838.1V850.4M2432.3 838.1h13M2432.3 850.4h13" stroke="#d8403a" stroke-width="2.6" fill="none"/>
<path d="M2620.1 824.3V838.1M2613.6 824.3h13M2613.6 838.1h13" stroke="#d8403a" stroke-width="2.6" fill="none"/>
<path d="M2802.5 786.6V812.7M2796.0 786.6h13M2796.0 812.7h13" stroke="#d8403a" stroke-width="2.6" fill="none"/>
<path d="M2985.5 808.2V830.9M2979.0 808.2h13M2979.0 830.9h13" stroke="#d8403a" stroke-width="2.6" fill="none"/>
<path d="M3167.3 774.1V803.6M3160.8 774.1h13M3160.8 803.6h13" stroke="#d8403a" stroke-width="2.6" fill="none"/>
<path d="M2106.7 1129.9L2107.8 1129.8L2108.8 1129.8L2109.9 1129.7L2111.1 1129.6L2112.2 1129.5L2113.4 1129.4L2114.5 1129.4L2115.7 1129.3L2117.0 1129.2L2118.2 1129.1L2119.5 1129.0L2120.7 1128.9L2122.0 1128.8L2123.3 1128.7L2124.7 1128.6L2126.0 1128.5L2127.4 1128.4L2128.7 1128.3L2130.1 1128.2L2131.5 1128.1L2132.9 1128.0L2134.4 1127.9L2135.8 1127.8L2137.3 1127.7L2138.8 1127.6L2140.3 1127.5L2141.8 1127.4L2143.3 1127.3L2144.8 1127.2L2146.3 1127.1L2147.9 1127.0L2149.5 1126.9L2151.0 1126.7L2152.6 1126.6L2154.2 1126.5L2155.8 1126.4L2157.4 1126.3L2159.1 1126.2L2160.7 1126.0L2162.4 1125.9L2164.0 1125.8L2165.7 1125.7L2167.3 1125.6L2169.0 1125.5L2170.7 1125.3L2172.4 1125.2L2174.1 1125.1L2175.8 1125.0L2177.5 1124.8L2179.2 1124.7L2181.0 1124.6L2182.7 1124.5L2184.4 1124.4L2186.2 1124.2L2187.9 1124.1L2189.7 1124.0L2191.4 1123.9L2193.2 1123.7L2195.0 1123.6L2196.7 1123.5L2198.5 1123.4L2200.3 1123.2L2202.0 1123.1L2203.8 1123.0L2205.6 1122.9L2207.3 1122.7L2209.1 1122.6L2210.9 1122.5L2212.7 1122.4L2214.5 1122.2L2216.2 1122.1L2218.0 1122.0L2219.8 1121.9L2221.6 1121.8L2223.3 1121.6L2225.1 1121.5L2226.9 1121.4L2228.6 1121.3L2230.4 1121.1L2232.1 1121.0L2233.9 1120.9L2235.7 1120.8L2237.4 1120.7L2239.1 1120.6L2240.9 1120.4L2242.6 1120.3L2244.3 1120.2L2246.1 1120.1L2247.8 1120.0L2249.5 1119.9L2251.2 1119.8L2252.9 1119.6L2254.6 1119.5L2256.2 1119.4L2259.0 1119.2L2261.7 1119.1L2264.3 1118.9L2266.8 1118.7L2269.3 1118.6L2271.6 1118.4L2273.9 1118.3L2276.1 1118.1L2278.3 1118.0L2280.4 1117.8L2282.4 1117.7L2284.4 1117.6L2286.2 1117.4L2288.1 1117.3L2289.9 1117.2L2291.6 1117.1L2293.3 1117.0L2294.9 1116.9L2296.5 1116.8L2298.1 1116.7L2299.6 1116.6L2301.0 1116.5L2302.5 1116.4L2303.9 1116.3L2305.2 1116.2L2306.6 1116.1L2307.9 1116.1L2309.2 1116.0L2310.4 1115.9L2311.7 1115.8L2312.9 1115.8L2314.2 1115.7L2315.4 1115.6L2316.6 1115.6L2317.8 1115.5L2318.9 1115.4L2320.1 1115.4L2321.3 1115.3L2322.5 1115.3L2323.7 1115.2L2324.9 1115.1L2326.1 1115.1L2327.4 1115.0L2328.6 1115.0L2329.9 1114.9L2331.1 1114.9L2332.4 1114.8L2333.8 1114.7L2335.1 1114.7L2336.5 1114.6L2337.9 1114.6L2339.4 1114.5L2340.8 1114.5L2342.4 1114.4L2343.9 1114.3L2345.5 1114.3L2348.4 1114.2L2351.1 1114.1L2353.6 1114.1L2355.9 1114.0L2358.1 1114.0L2360.2 1114.0L2362.1 1114.0L2363.9 1114.0L2365.6 1114.0L2367.2 1114.1L2368.8 1114.1L2370.2 1114.2L2371.5 1114.2L2372.8 1114.3L2374.1 1114.3L2375.3 1114.4L2376.5 1114.4L2377.6 1114.5L2378.7 1114.6L2379.9 1114.6L2381.0 1114.6L2382.1 1114.7L2383.3 1114.7L2384.5 1114.7L2385.7 1114.7L2387.0 1114.7L2388.4 1114.6L2389.8 1114.6L2391.3 1114.5L2392.9 1114.4L2394.6 1114.3L2397.2 1114.1L2399.5 1113.8L2401.8 1113.6L2403.8 1113.3L2405.8 1113.0L2407.7 1112.7L2409.4 1112.3L2411.1 1112.0L2412.7 1111.6L2414.2 1111.3L2415.6 1110.9L2417.0 1110.6L2418.3 1110.2L2419.6 1109.9L2420.8 1109.6L2422.0 1109.3L2423.2 1109.0L2424.4 1108.8L2425.7 1108.6L2426.9 1108.4L2428.1 1108.3L2431.0 1108.1L2432.1 1108.6L2432.5 1109.3L2433.1 1110.0L2434.8 1110.5L2436.3 1110.5L2437.7 1110.4L2439.2 1110.3L2440.6 1110.0L2442.1 1109.8L2443.5 1109.6L2445.1 1109.5L2446.6 1109.6L2448.2 1109.8L2450.1 1110.4L2451.2 1111.2L2451.9 1112.1L2452.9 1113.1L2454.4 1114.1L2457.1 1115.0L2458.6 1115.3L2460.1 1115.6L2461.6 1115.9L2463.0 1116.1L2464.5 1116.3L2466.0 1116.5L2467.6 1116.7L2469.1 1116.8L2470.7 1116.9L2472.4 1117.0L2474.1 1117.1L2475.8 1117.1L2477.6 1117.2L2479.5 1117.2L2481.6 1117.2L2483.5 1117.2L2485.2 1117.3L2486.8 1117.3L2488.2 1117.3L2489.6 1117.2L2490.9 1117.1L2492.1 1116.9L2493.4 1116.6L2494.7 1116.2L2496.0 1115.6L2497.3 1115.0L2500.0 1112.6L2501.7 1109.7L2502.7 1106.7L2503.7 1104.3L2505.1 1103.1L2506.7 1103.9L2507.6 1106.5L2508.7 1109.5L2510.7 1111.6L2512.3 1112.2L2513.9 1112.5L2515.5 1112.6L2517.2 1112.4L2518.8 1112.0L2520.3 1111.4L2521.9 1110.5L2523.8 1108.0L2524.7 1104.9L2525.5 1102.2L2526.8 1100.9L2527.9 1101.7L2528.5 1104.1L2529.8 1106.8L2533.0 1108.9L2534.3 1109.2L2535.6 1109.3L2536.9 1109.4L2538.3 1109.4L2539.7 1109.4L2541.1 1109.3L2542.6 1109.2L2544.1 1109.0L2545.6 1108.9L2547.2 1108.7L2548.8 1108.6L2550.4 1108.5L2552.0 1108.4L2553.6 1108.4L2555.3 1108.4L2557.0 1108.5L2558.7 1108.7L2560.4 1109.0L2562.1 1109.4L2564.4 1110.1L2566.4 1111.0L2568.2 1112.0L2569.8 1113.0L2571.3 1114.2L2572.6 1115.3L2573.8 1116.5L2575.0 1117.6L2576.3 1118.7L2577.5 1119.6L2578.9 1120.5L2580.4 1121.2L2582.1 1121.7L2584.4 1122.0L2586.4 1122.0L2588.2 1121.8L2589.8 1121.4L2591.3 1120.8L2592.7 1120.1L2594.0 1119.3L2595.3 1118.6L2596.5 1117.8L2597.8 1117.2L2599.8 1115.1L2600.3 1113.3L2601.1 1112.7L2602.1 1114.7L2602.9 1117.7L2604.5 1118.3L2605.8 1116.3L2607.2 1113.1L2608.6 1109.6L2609.9 1106.5L2611.2 1104.9L2612.5 1109.7L2613.4 1113.8L2614.8 1108.4L2616.3 1100.4L2617.9 1096.0L2619.2 1099.2L2620.2 1106.1L2621.2 1111.6L2622.1 1111.0L2623.4 1109.4L2624.5 1111.5L2625.5 1114.7L2626.9 1117.7L2629.0 1119.4L2630.6 1119.9L2632.1 1120.2L2633.6 1120.3L2635.1 1119.8L2636.6 1118.8L2638.3 1116.9L2640.0 1114.1L2642.2 1107.9L2643.8 1100.1L2645.2 1092.3L2646.5 1086.1L2648.0 1083.4L2649.8 1088.8L2650.8 1100.8L2652.5 1110.7L2653.8 1113.2L2654.9 1114.1L2656.0 1113.6L2657.4 1112.3L2659.3 1110.7L2660.9 1109.5L2662.4 1108.2L2663.9 1106.8L2665.3 1105.2L2666.8 1103.2L2668.2 1100.9L2669.5 1098.2L2671.7 1090.6L2672.7 1083.4L2674.1 1078.9L2675.7 1079.9L2677.0 1084.4L2678.6 1086.8L2680.3 1083.6L2681.7 1078.4L2683.2 1076.6L2684.3 1080.7L2685.1 1087.8L2686.6 1094.8L2687.9 1098.0L2689.2 1100.6L2690.5 1102.5L2691.9 1103.6L2693.4 1103.9L2695.0 1102.2L2696.1 1098.7L2697.2 1095.2L2699.1 1093.6L2700.6 1093.9L2702.0 1094.8L2703.4 1096.2L2704.8 1098.2L2706.3 1100.8L2708.2 1103.9L2710.1 1107.5L2711.7 1111.5L2713.2 1115.5L2714.6 1119.2L2715.9 1122.2L2717.3 1124.3L2718.9 1123.6L2719.5 1119.4L2720.7 1117.5L2721.8 1119.8L2722.7 1123.8L2724.0 1127.7L2726.4 1130.0L2727.8 1130.3L2729.4 1130.2L2731.0 1129.9L2732.6 1129.3L2734.2 1128.5L2735.7 1127.4L2737.3 1126.2L2738.7 1124.8L2740.0 1123.2L2742.1 1119.0L2742.6 1114.6L2743.4 1107.3L2744.6 1094.9L2745.5 1082.7L2746.8 1078.9L2748.3 1089.0L2749.7 1106.5L2751.4 1120.9L2752.9 1127.1L2754.1 1127.3L2755.9 1122.0L2757.3 1116.1L2758.7 1108.4L2760.0 1100.0L2761.3 1092.1L2762.7 1085.7L2764.6 1079.9L2765.9 1079.2L2767.3 1082.3L2768.5 1089.1L2769.3 1098.2L2770.7 1106.1L2772.0 1110.7L2773.3 1114.0L2774.5 1114.5L2775.9 1110.7L2777.4 1098.9L2778.4 1083.0L2779.8 1066.4L2781.3 1050.1L2782.7 1038.2L2784.3 1038.0L2785.9 1055.2L2787.1 1081.5L2788.9 1102.7L2790.4 1110.2L2791.9 1112.1L2793.2 1109.0L2794.5 1101.6L2796.2 1076.4L2797.3 1045.9L2798.5 1017.8L2799.8 1013.0L2800.8 1038.1L2801.8 1074.4L2803.2 1098.2L2804.5 1095.7L2805.7 1080.8L2806.9 1064.1L2808.2 1056.1L2809.4 1064.4L2810.2 1081.9L2811.6 1097.0L2812.9 1103.0L2814.2 1105.8L2815.5 1105.3L2817.3 1101.6L2818.8 1095.3L2820.2 1086.3L2821.5 1076.8L2822.8 1068.7L2824.1 1064.1L2825.6 1068.6L2826.4 1080.2L2827.5 1084.5L2828.8 1076.8L2829.8 1063.1L2830.9 1045.9L2832.4 1016.9L2833.6 1001.6L2834.8 1015.8L2835.9 1045.9L2837.0 1074.4L2838.9 1098.2L2840.1 1105.4L2841.4 1109.5L2842.7 1111.7L2844.1 1112.9L2845.7 1114.1L2847.4 1114.9L2848.7 1114.1L2849.9 1112.1L2851.4 1109.5L2853.1 1104.5L2854.4 1099.2L2855.9 1098.2L2857.1 1104.5L2858.0 1114.2L2860.0 1120.9L2861.5 1121.8L2863.1 1121.6L2864.7 1120.3L2866.4 1118.2L2868.0 1115.3L2869.5 1111.8L2871.7 1101.9L2872.8 1091.4L2874.1 1086.8L2875.3 1092.7L2876.0 1104.2L2877.5 1114.1L2878.8 1116.9L2880.2 1118.0L2881.5 1117.9L2882.9 1117.1L2884.3 1116.4L2886.2 1113.9L2887.4 1110.6L2888.9 1109.5L2890.6 1113.0L2891.9 1118.3L2893.4 1120.9L2894.9 1113.4L2896.4 1108.4L2897.6 1115.1L2898.6 1125.5L2900.2 1134.5L2901.7 1137.8L2903.0 1138.7L2904.4 1138.3L2905.9 1138.0L2907.7 1139.2L2909.0 1139.7L2910.5 1134.5L2912.1 1112.4L2913.4 1094.8L2914.5 1106.1L2916.1 1118.6L2917.5 1112.4L2918.9 1100.8L2920.3 1089.8L2921.8 1085.7L2923.3 1097.8L2924.1 1117.8L2925.2 1126.6L2926.4 1117.7L2927.4 1098.5L2928.6 1070.9L2929.9 1032.4L2931.0 995.5L2932.3 984.5L2933.9 1041.9L2935.5 1116.4L2936.5 1134.6L2937.3 1134.7L2938.9 1133.4L2940.2 1136.0L2941.5 1138.5L2942.8 1139.6L2944.2 1138.0L2945.7 1132.3L2947.5 1116.8L2948.7 1096.9L2950.2 1070.9L2951.9 1037.2L2953.3 1006.9L2954.8 998.2L2956.0 1023.9L2956.9 1068.4L2958.2 1107.3L2959.7 1123.7L2961.0 1125.4L2962.7 1124.3L2964.4 1129.0L2965.7 1130.4L2967.3 1114.1L2968.7 1070.4L2969.7 1018.7L2970.9 988.0L2972.4 1013.5L2974.1 1066.4L2975.6 1087.5L2976.9 1100.2L2978.6 1106.1L2980.3 1100.8L2981.6 1087.7L2983.2 1081.1L2984.7 1089.9L2986.0 1104.8L2987.7 1113.0L2989.2 1108.5L2990.5 1098.3L2991.8 1088.0L2993.4 1083.4L2995.0 1088.0L2996.2 1098.0L2997.5 1108.4L2999.1 1114.1L3000.6 1111.8L3001.7 1104.7L3003.0 1097.1L3004.8 1093.6L3006.3 1095.0L3007.5 1098.7L3008.7 1103.7L3010.4 1109.1L3012.7 1114.1L3014.3 1116.5L3015.8 1118.5L3017.3 1120.4L3018.7 1122.0L3020.2 1123.5L3021.7 1124.7L3023.2 1125.9L3024.7 1126.8L3026.4 1127.7L3028.6 1128.3L3030.3 1127.9L3031.7 1127.0L3032.9 1125.9L3034.1 1125.3L3035.5 1125.5L3037.3 1127.8L3038.2 1131.1L3040.0 1134.5L3041.4 1136.0L3042.7 1137.0L3044.0 1137.9L3045.4 1138.6L3047.1 1139.3L3049.1 1140.2L3050.7 1141.0L3052.1 1141.6L3053.3 1142.3L3054.6 1142.8L3055.8 1143.2L3057.2 1143.5L3058.7 1143.6L3060.5 1143.6L3062.2 1143.4L3063.7 1143.1L3065.1 1142.5L3066.3 1141.9L3067.6 1141.2L3068.8 1140.5L3070.2 1139.8L3071.8 1139.1L3073.9 1139.2L3075.6 1140.5L3077.1 1142.0L3078.4 1142.4L3079.6 1140.7L3080.9 1135.7L3082.8 1110.4L3083.6 1075.5L3084.8 1031.5L3085.9 1013.0L3087.3 1053.8L3088.9 1107.3L3089.9 1121.5L3090.7 1123.0L3092.3 1120.9L3093.6 1118.8L3095.0 1114.6L3096.4 1109.6L3097.7 1105.6L3099.1 1103.9L3100.5 1107.9L3101.2 1115.7L3102.5 1120.9L3104.0 1122.5L3105.4 1123.0L3106.8 1120.2L3108.2 1111.8L3109.8 1082.6L3110.9 1048.2L3112.0 1014.2L3113.2 1007.3L3114.4 1053.1L3116.1 1107.3L3117.5 1118.7L3118.8 1120.6L3120.1 1118.1L3121.8 1116.4L3123.5 1116.2L3124.8 1115.1L3126.1 1112.9L3127.5 1109.5L3128.9 1102.1L3129.7 1094.4L3130.9 1092.5L3132.4 1101.2L3133.7 1114.8L3135.5 1123.2L3137.0 1122.0L3138.3 1116.5L3139.6 1109.6L3141.1 1103.9L3142.8 1099.3L3143.9 1097.2L3145.7 1098.2L3147.1 1101.0L3148.3 1105.3L3149.5 1110.0L3150.9 1114.1L3152.5 1116.4L3154.1 1116.3L3155.5 1114.4L3156.8 1111.5L3158.0 1108.5L3159.3 1106.1L3160.9 1105.3L3161.7 1105.7L3162.7 1102.7L3164.0 1095.1L3165.0 1086.0L3166.1 1077.7L3167.2 1069.9L3168.4 1069.8L3169.8 1075.8L3171.2 1084.5L3173.0 1091.4L3174.6 1092.4L3175.9 1090.1L3177.5 1089.1L3179.1 1091.3L3180.4 1094.4L3182.0 1097.0L3183.9 1098.2L3185.4 1098.2L3186.6 1098.2" fill="none" stroke="#3d5ca8" stroke-width="2.0" stroke-linejoin="round"/>
<path d="M2106.7 1104.9L2108.5 1106.0L2110.5 1106.3L2112.8 1105.5L2115.2 1105.2L2117.8 1104.7L2120.5 1107.0L2123.2 1106.7L2125.9 1107.8L2128.6 1106.8L2131.1 1108.0L2133.5 1106.5L2137.3 1107.5L2139.3 1106.2L2140.6 1104.1L2142.0 1103.5L2144.6 1103.7L2147.0 1102.6L2149.2 1104.6L2151.3 1106.5L2153.3 1106.1L2155.4 1108.7L2157.7 1108.9L2160.3 1109.3L2162.5 1106.9L2163.6 1104.7L2164.3 1105.0L2165.7 1103.0L2168.5 1099.9L2173.7 1097.0L2175.9 1096.8L2178.2 1097.6L2180.5 1096.2L2183.0 1097.8L2185.5 1096.4L2188.0 1094.9L2190.6 1096.0L2193.3 1094.8L2195.9 1096.3L2198.6 1096.0L2201.4 1094.6L2204.1 1094.8L2206.8 1094.7L2209.5 1094.8L2212.2 1095.1L2214.9 1092.0L2217.6 1092.8L2220.2 1093.2L2222.8 1092.0L2227.2 1092.3L2230.8 1090.3L2233.8 1092.2L2236.3 1090.7L2238.4 1089.1L2240.2 1090.5L2241.8 1089.1L2243.5 1088.6L2245.3 1089.3L2247.3 1088.2L2250.6 1088.6L2251.2 1091.3L2252.1 1091.7L2256.2 1090.5L2258.3 1093.0L2260.5 1090.9L2262.8 1092.0L2265.2 1094.0L2267.7 1093.3L2270.2 1092.5L2272.8 1092.9L2275.4 1093.1L2278.1 1092.5L2280.7 1095.2L2283.4 1092.5L2286.1 1093.6L2288.7 1094.6L2291.3 1093.6L2293.9 1095.3L2296.4 1093.0L2300.9 1094.8L2304.3 1094.0L2307.1 1092.6L2309.2 1092.5L2311.1 1090.4L2312.8 1090.9L2314.5 1090.3L2316.5 1089.3L2319.4 1090.1L2319.8 1092.7L2323.2 1093.5L2325.3 1092.8L2327.4 1095.0L2329.6 1093.8L2331.8 1094.6L2334.1 1095.6L2336.5 1093.9L2339.0 1093.6L2341.6 1093.9L2344.4 1095.3L2347.2 1094.7L2350.2 1094.3L2353.4 1094.8L2356.7 1096.1L2359.9 1094.0L2362.7 1094.4L2365.1 1095.6L2367.4 1094.7L2369.5 1093.5L2371.5 1093.9L2373.5 1093.7L2375.6 1092.4L2377.9 1092.8L2380.4 1092.2L2383.3 1093.3L2386.5 1091.5L2390.2 1092.0L2393.0 1092.6L2395.7 1092.0L2398.3 1090.0L2400.9 1090.2L2403.4 1088.9L2405.8 1088.7L2408.2 1088.6L2410.5 1089.1L2412.9 1089.1L2415.2 1086.7L2417.5 1085.4L2419.9 1086.4L2422.2 1084.9L2424.6 1084.4L2427.1 1086.4L2429.6 1084.1L2432.2 1085.7L2434.8 1084.4L2438.3 1086.0L2440.7 1085.8L2442.3 1083.6L2443.4 1084.3L2444.3 1086.9L2445.1 1086.3L2446.2 1086.1L2447.7 1087.5L2450.0 1087.8L2453.3 1087.0L2457.8 1086.8L2463.8 1085.4L2466.1 1086.0L2468.4 1085.2L2470.8 1086.5L2473.2 1086.2L2475.7 1084.6L2478.2 1085.8L2480.8 1084.0L2483.4 1083.8L2486.0 1085.1L2488.7 1084.3L2491.4 1085.3L2494.1 1084.2L2496.9 1084.1L2499.6 1082.1L2502.4 1083.9L2505.2 1081.3L2508.0 1082.6L2510.8 1083.2L2513.6 1082.8L2516.4 1082.5L2519.2 1080.8L2521.9 1081.2L2524.7 1081.2L2527.4 1078.9L2530.2 1081.1L2532.9 1080.7L2535.5 1079.0L2538.2 1079.7L2540.8 1078.5L2543.3 1077.7L2545.8 1078.8L2548.3 1076.6L2550.7 1078.6L2553.1 1078.9L2555.4 1076.7L2557.6 1078.5L2559.8 1075.8L2566.2 1077.8L2570.9 1076.1L2574.1 1078.4L2576.2 1077.2L2577.6 1079.2L2578.6 1077.0L2579.4 1077.6L2580.4 1080.2L2582.0 1079.8L2584.4 1079.3L2587.8 1077.4L2590.7 1077.3L2593.2 1077.2L2595.5 1075.5L2597.7 1077.4L2599.8 1075.7L2602.0 1075.1L2604.5 1073.1L2607.7 1069.8L2609.7 1066.6L2611.1 1066.5L2612.9 1063.1L2615.6 1063.8L2618.1 1063.9L2620.4 1065.0L2622.6 1065.3L2624.7 1067.0L2626.8 1070.0L2629.0 1070.1L2631.2 1072.6L2634.4 1072.6L2636.3 1073.3L2637.8 1072.4L2640.0 1072.3L2642.3 1068.8L2644.0 1064.6L2645.8 1061.3L2648.0 1060.9L2649.9 1063.4L2651.3 1065.3L2652.9 1068.3L2655.9 1071.5L2658.2 1072.1L2660.6 1073.7L2663.0 1074.7L2665.3 1074.0L2667.6 1072.3L2669.8 1071.8L2671.8 1070.6L2674.8 1061.6L2676.4 1053.6L2678.6 1055.6L2680.7 1057.3L2683.2 1060.0L2685.3 1059.7L2686.8 1057.9L2688.9 1058.2L2691.2 1059.8L2693.2 1064.5L2695.7 1066.6L2698.2 1060.4L2700.2 1055.7L2702.5 1051.2L2704.4 1051.4L2705.8 1055.2L2708.2 1061.5L2710.6 1061.5L2712.9 1064.5L2715.4 1064.0L2718.4 1067.1L2721.3 1069.6L2723.6 1074.9L2725.9 1078.6L2728.6 1078.0L2731.3 1077.6L2733.3 1075.5L2735.2 1069.6L2737.7 1066.3L2740.3 1063.8L2742.4 1061.5L2744.4 1057.7L2746.8 1058.9L2749.1 1059.3L2750.8 1063.1L2752.5 1069.4L2754.8 1068.4L2757.1 1069.9L2758.9 1066.5L2761.0 1062.9L2763.9 1060.2L2766.6 1059.2L2769.2 1058.4L2771.6 1059.3L2774.0 1058.3L2776.4 1058.4L2779.1 1052.0L2780.5 1044.8L2782.0 1036.0L2784.3 1028.8L2786.6 1027.0L2788.5 1036.2L2790.1 1046.9L2792.3 1054.2L2794.7 1051.1L2796.8 1043.8L2799.1 1037.6L2801.5 1031.9L2803.6 1033.7L2805.6 1033.2L2807.3 1036.5L2809.3 1040.2L2811.1 1050.1L2812.5 1054.9L2814.5 1061.9L2817.0 1060.2L2819.3 1053.0L2821.8 1049.2L2824.0 1045.9L2825.5 1046.9L2827.5 1044.4L2829.5 1037.0L2831.2 1028.0L2833.2 1026.4L2835.1 1028.3L2836.6 1038.4L2838.9 1046.4L2840.9 1050.9L2842.7 1055.4L2844.6 1057.2L2846.8 1061.0L2849.4 1057.6L2851.3 1054.3L2853.6 1052.9L2856.1 1056.8L2858.1 1062.1L2860.5 1066.8L2862.5 1070.8L2863.9 1075.6L2866.1 1071.1L2868.2 1064.8L2870.1 1056.0L2872.0 1046.0L2874.1 1041.6L2876.1 1042.9L2877.4 1049.6L2879.8 1056.1L2882.4 1061.4L2884.9 1063.8L2887.4 1066.7L2890.0 1066.5L2892.5 1064.6L2893.9 1060.6L2895.7 1058.3L2897.6 1063.7L2899.1 1070.7L2901.4 1074.4L2903.4 1079.8L2905.2 1081.6L2907.1 1081.9L2909.3 1078.4L2912.0 1071.9L2914.0 1063.0L2916.1 1054.6L2918.5 1046.2L2920.7 1038.7L2922.6 1037.4L2924.3 1040.4L2926.4 1036.7L2928.4 1024.4L2930.0 1008.3L2932.0 1004.0L2934.0 1016.6L2935.6 1042.3L2937.7 1063.0L2940.1 1076.3L2942.2 1078.6L2944.5 1072.1L2946.7 1059.2L2948.4 1038.7L2950.2 1021.7L2952.5 1004.6L2954.8 1004.6L2956.7 1019.9L2958.5 1039.1L2960.5 1055.3L2962.7 1068.6L2965.0 1063.4L2966.9 1046.9L2968.6 1022.6L2970.7 1008.4L2972.8 1010.6L2974.4 1024.1L2976.4 1035.2L2978.5 1036.4L2980.9 1039.1L2983.2 1044.0L2985.4 1052.4L2987.7 1057.0L2990.0 1050.8L2992.3 1049.6L2994.5 1054.1L2996.7 1060.5L2999.1 1065.9L3001.1 1062.4L3002.6 1057.6L3004.8 1055.1L3006.8 1055.6L3008.5 1060.7L3010.3 1067.5L3012.7 1072.0L3015.2 1072.2L3017.2 1069.8L3019.2 1066.9L3021.8 1067.8L3024.3 1068.5L3026.2 1071.3L3028.2 1072.9L3030.9 1076.2L3033.4 1079.2L3035.7 1080.3L3037.8 1083.2L3040.0 1083.2L3042.3 1084.2L3045.0 1089.0L3046.7 1087.5L3049.1 1090.6L3051.5 1088.4L3053.5 1085.9L3055.7 1085.3L3058.2 1086.3L3060.6 1086.5L3062.4 1089.2L3064.2 1089.5L3066.1 1092.4L3068.4 1089.2L3070.0 1087.4L3071.8 1083.5L3074.1 1090.2L3076.4 1090.1L3078.4 1081.6L3080.2 1068.6L3082.0 1055.1L3083.8 1028.8L3085.5 1014.0L3087.3 1027.2L3089.1 1047.9L3091.1 1070.1L3093.2 1079.7L3095.7 1078.3L3097.7 1077.4L3099.7 1075.1L3101.6 1072.5L3103.6 1069.3L3106.2 1056.7L3108.2 1040.6L3110.2 1017.2L3112.3 1006.0L3114.4 1025.6L3117.3 1055.1L3119.5 1063.5L3121.7 1069.6L3123.9 1073.4L3126.4 1073.0L3128.9 1071.7L3130.6 1064.2L3133.2 1055.9L3135.4 1055.2L3137.4 1053.3L3139.4 1052.6L3142.3 1051.2L3144.8 1055.3L3146.9 1056.6L3149.0 1059.5L3151.2 1060.7L3153.6 1061.6L3156.4 1061.3L3158.4 1060.4L3160.3 1058.3L3162.7 1055.1L3165.3 1051.7L3167.5 1050.4L3169.5 1047.7L3171.8 1047.1L3174.6 1046.1L3176.5 1050.8L3178.6 1055.3L3181.1 1062.3L3183.2 1072.0L3185.8 1072.9L3187.7 1072.2" fill="none" stroke="#d8403a" stroke-width="2.0" stroke-linejoin="round"/>
<path d="M2337.1 1083.0V1102.7M2330.6 1083.0h13M2330.6 1102.7h13" stroke="#d8403a" stroke-width="2.6" fill="none"/>
<path d="M2560.3 1068.5V1086.6M2553.8 1068.5h13M2553.8 1086.6h13" stroke="#d8403a" stroke-width="2.6" fill="none"/>
<path d="M2719.5 1057.3V1073.2M2713.0 1057.3h13M2713.0 1073.2h13" stroke="#d8403a" stroke-width="2.6" fill="none"/>
<path d="M2876.4 1042.5V1059.5M2869.9 1042.5h13M2869.9 1059.5h13" stroke="#d8403a" stroke-width="2.6" fill="none"/>
<path d="M3035.5 1064.1V1082.3M3029.0 1064.1h13M3029.0 1082.3h13" stroke="#d8403a" stroke-width="2.6" fill="none"/>
<path d="M2106.7 1379.6L2107.8 1379.5L2108.8 1379.4L2109.9 1379.4L2111.1 1379.3L2112.2 1379.2L2113.4 1379.2L2114.6 1379.1L2115.8 1379.0L2117.0 1379.0L2118.2 1378.9L2119.5 1378.8L2120.8 1378.7L2122.1 1378.7L2123.4 1378.6L2124.7 1378.5L2126.1 1378.4L2127.4 1378.3L2128.8 1378.3L2130.2 1378.2L2131.6 1378.1L2133.0 1378.0L2134.5 1377.9L2135.9 1377.8L2137.4 1377.7L2138.9 1377.6L2140.4 1377.6L2141.9 1377.5L2143.4 1377.4L2145.0 1377.3L2146.5 1377.2L2148.1 1377.1L2149.7 1377.0L2151.3 1376.9L2152.9 1376.8L2154.5 1376.7L2156.1 1376.6L2157.7 1376.5L2159.4 1376.4L2161.1 1376.3L2162.7 1376.2L2164.4 1376.1L2166.1 1376.0L2167.8 1375.9L2169.5 1375.8L2171.2 1375.7L2172.9 1375.6L2174.7 1375.5L2176.4 1375.4L2178.2 1375.3L2179.9 1375.2L2181.7 1375.0L2183.4 1374.9L2185.2 1374.8L2187.0 1374.7L2188.8 1374.6L2190.6 1374.5L2192.4 1374.4L2194.2 1374.3L2196.0 1374.2L2197.8 1374.1L2199.6 1374.0L2201.4 1373.9L2203.3 1373.7L2205.1 1373.6L2206.9 1373.5L2208.8 1373.4L2210.6 1373.3L2212.4 1373.2L2214.3 1373.1L2216.1 1373.0L2218.0 1372.9L2219.8 1372.7L2221.7 1372.6L2223.5 1372.5L2225.4 1372.4L2227.2 1372.3L2229.1 1372.2L2230.9 1372.1L2232.8 1372.0L2234.6 1371.9L2236.4 1371.8L2238.3 1371.6L2240.1 1371.5L2242.0 1371.4L2243.8 1371.3L2245.6 1371.2L2247.5 1371.1L2249.3 1371.0L2251.1 1370.9L2252.9 1370.8L2254.8 1370.7L2256.6 1370.6L2258.4 1370.5L2260.2 1370.4L2262.0 1370.3L2263.8 1370.2L2265.5 1370.1L2267.3 1370.0L2269.1 1369.9L2270.9 1369.8L2272.6 1369.7L2274.4 1369.6L2276.1 1369.5L2277.8 1369.4L2279.6 1369.3L2281.3 1369.2L2283.0 1369.1L2284.7 1369.0L2286.4 1368.9L2288.1 1368.8L2289.8 1368.7L2291.4 1368.6L2293.1 1368.5L2294.7 1368.4L2296.3 1368.3L2298.0 1368.3L2299.6 1368.2L2301.2 1368.1L2302.7 1368.0L2304.3 1367.9L2305.9 1367.8L2307.4 1367.8L2309.0 1367.7L2310.5 1367.6L2312.0 1367.5L2313.5 1367.4L2315.0 1367.4L2316.4 1367.3L2317.9 1367.2L2319.3 1367.2L2320.7 1367.1L2322.1 1367.0L2323.5 1366.9L2324.9 1366.9L2326.2 1366.8L2327.6 1366.8L2328.9 1366.7L2330.2 1366.6L2331.5 1366.6L2332.7 1366.5L2334.0 1366.5L2335.2 1366.4L2336.4 1366.4L2337.6 1366.3L2338.8 1366.3L2339.9 1366.2L2341.1 1366.2L2345.1 1365.7L2347.9 1365.5L2349.8 1365.5L2350.9 1365.8L2351.6 1366.3L2352.1 1366.8L2352.6 1367.5L2353.4 1368.2L2354.7 1368.9L2356.7 1369.5L2358.5 1369.9L2360.2 1370.4L2361.8 1370.8L2363.5 1371.3L2365.1 1371.8L2366.7 1372.2L2368.2 1372.7L2369.8 1373.1L2371.3 1373.5L2372.8 1373.9L2374.4 1374.3L2375.9 1374.6L2377.5 1374.9L2379.0 1375.1L2381.7 1375.4L2383.6 1375.6L2385.0 1375.5L2386.0 1375.3L2387.1 1375.0L2388.4 1374.6L2390.2 1374.0L2392.0 1373.3L2393.5 1372.7L2394.8 1372.0L2396.0 1371.3L2397.4 1370.4L2399.1 1369.5L2401.3 1368.4L2403.1 1367.6L2404.8 1366.8L2406.4 1366.1L2408.0 1365.4L2409.6 1364.8L2411.1 1364.1L2412.6 1363.5L2414.1 1362.9L2415.6 1362.3L2417.0 1361.7L2419.5 1360.8L2420.6 1360.5L2421.3 1360.3L2422.5 1359.5L2424.1 1357.7L2425.4 1355.6L2426.7 1353.9L2428.1 1353.2L2429.7 1354.4L2430.8 1357.0L2432.6 1359.5L2433.9 1360.4L2435.1 1360.9L2436.3 1361.2L2437.6 1361.5L2439.3 1361.7L2441.1 1362.1L2442.7 1362.5L2444.2 1362.7L2445.7 1362.5L2447.1 1361.7L2449.0 1356.3L2450.0 1352.8L2450.8 1357.1L2452.7 1363.9L2453.8 1365.5L2454.8 1366.6L2455.9 1367.5L2457.2 1368.2L2459.1 1369.2L2461.6 1370.6L2463.1 1371.5L2464.5 1372.3L2466.0 1373.2L2467.4 1374.0L2468.9 1374.8L2470.4 1375.6L2471.8 1376.4L2473.3 1377.1L2474.8 1377.8L2476.3 1378.4L2477.9 1379.0L2479.5 1379.6L2481.9 1380.3L2483.7 1380.8L2485.1 1381.1L2486.4 1381.1L2487.6 1380.9L2489.0 1380.5L2490.6 1380.0L2492.6 1379.3L2494.3 1378.7L2495.7 1377.9L2497.0 1376.8L2498.3 1375.2L2499.6 1372.9L2501.3 1367.4L2502.1 1361.7L2502.9 1355.0L2504.0 1343.7L2505.1 1339.4L2506.2 1345.1L2507.1 1354.9L2508.5 1363.9L2509.7 1368.7L2510.9 1370.4L2512.9 1370.6L2514.4 1370.6L2516.0 1370.5L2517.5 1370.0L2519.0 1368.9L2520.5 1367.0L2521.9 1363.9L2523.7 1355.2L2524.4 1345.4L2525.2 1337.1L2526.4 1331.5L2527.5 1333.8L2528.5 1343.8L2529.7 1355.0L2530.7 1359.0L2531.6 1360.2L2533.0 1359.5L2534.5 1357.2L2535.8 1353.5L2537.2 1350.0L2538.6 1348.3L2539.6 1349.9L2540.0 1353.7L2542.0 1357.2L2543.3 1358.1L2544.7 1358.8L2546.2 1359.6L2547.8 1360.1L2549.4 1360.6L2551.0 1360.7L2552.5 1360.7L2554.0 1360.2L2555.4 1359.5L2557.9 1355.0L2558.9 1349.0L2559.8 1343.8L2561.0 1339.8L2562.1 1341.6L2563.1 1347.6L2564.0 1355.4L2565.4 1361.7L2567.0 1363.9L2568.4 1363.2L2569.9 1361.7L2571.1 1358.1L2572.1 1356.1L2573.0 1358.3L2573.9 1362.1L2575.4 1366.2L2576.7 1368.3L2577.8 1370.3L2578.9 1371.8L2580.3 1372.7L2582.1 1372.9L2583.8 1372.2L2585.2 1370.8L2586.6 1368.9L2588.0 1367.0L2589.5 1365.2L2591.1 1363.9L2592.9 1363.4L2594.3 1363.7L2595.4 1364.3L2596.6 1364.6L2597.8 1363.9L2599.3 1360.0L2600.2 1355.3L2601.1 1353.9L2601.9 1361.6L2603.3 1370.6L2604.8 1372.2L2606.3 1373.1L2607.9 1372.9L2609.5 1371.4L2611.2 1368.4L2613.2 1360.8L2614.4 1351.6L2615.6 1341.6L2617.1 1326.5L2618.3 1322.6L2619.8 1342.8L2621.2 1363.9L2622.3 1358.4L2623.4 1350.5L2624.3 1357.6L2625.0 1368.6L2626.8 1377.3L2628.2 1379.3L2629.7 1379.9L2631.2 1379.4L2632.7 1378.3L2634.2 1376.7L2635.7 1375.1L2637.7 1372.0L2638.7 1368.2L2640.0 1362.7L2641.7 1358.6L2643.0 1355.0L2644.5 1344.5L2645.9 1321.9L2646.8 1297.7L2648.0 1288.9L2649.1 1306.8L2650.0 1338.6L2651.4 1365.0L2652.9 1372.9L2654.2 1369.9L2655.9 1367.3L2657.5 1370.0L2658.7 1372.8L2660.5 1371.8L2662.0 1367.2L2663.3 1360.6L2664.6 1354.0L2666.1 1349.1L2667.9 1350.2L2669.2 1354.9L2670.7 1351.4L2672.0 1334.4L2672.8 1313.1L2674.1 1296.8L2675.6 1295.3L2677.0 1302.2L2678.6 1303.6L2680.3 1291.0L2681.7 1274.8L2683.2 1269.5L2684.5 1283.3L2685.3 1306.3L2686.6 1326.4L2688.1 1333.8L2689.5 1333.7L2691.1 1335.5L2692.9 1343.2L2694.3 1350.9L2695.7 1353.6L2696.8 1341.7L2698.0 1328.6L2699.4 1330.7L2700.9 1337.3L2702.5 1340.0L2703.9 1335.5L2704.8 1327.8L2705.9 1319.5L2707.4 1306.4L2708.9 1304.8L2710.0 1325.9L2711.6 1353.6L2712.9 1364.7L2714.3 1373.0L2715.7 1377.9L2717.3 1378.6L2719.0 1368.6L2720.3 1352.3L2721.8 1344.5L2723.0 1354.4L2723.9 1372.3L2726.4 1385.5L2727.8 1387.2L2729.3 1388.0L2730.8 1388.0L2732.5 1387.2L2734.1 1385.7L2735.7 1383.6L2737.2 1380.9L2738.7 1377.7L2740.0 1374.1L2742.1 1362.2L2742.7 1348.9L2743.4 1333.2L2744.8 1305.2L2746.4 1295.7L2747.6 1313.2L2748.6 1341.6L2750.2 1367.3L2751.6 1379.4L2752.8 1386.4L2754.2 1388.3L2755.9 1385.5L2757.5 1378.8L2758.8 1368.4L2760.1 1356.4L2761.4 1344.8L2762.7 1335.5L2764.2 1326.1L2765.0 1323.6L2766.1 1328.6L2767.6 1342.7L2768.9 1361.3L2770.7 1376.4L2772.2 1382.7L2773.5 1385.4L2774.8 1383.5L2776.4 1376.4L2778.2 1358.2L2779.5 1335.5L2780.9 1315.0L2782.2 1300.7L2783.0 1294.1L2784.3 1299.1L2785.8 1319.7L2787.1 1347.9L2788.9 1369.5L2790.4 1377.4L2791.9 1379.6L2793.2 1374.5L2794.5 1360.5L2796.2 1311.3L2797.3 1253.6L2798.5 1200.6L2799.8 1193.4L2800.8 1244.5L2801.8 1317.4L2803.2 1365.0L2804.7 1351.9L2806.1 1307.2L2807.7 1280.9L2809.1 1298.2L2810.1 1334.1L2811.6 1362.7L2813.0 1370.7L2814.2 1371.1L2815.6 1365.6L2817.3 1355.9L2819.1 1340.3L2820.6 1320.5L2822.1 1303.1L2823.6 1294.5L2825.3 1307.3L2826.3 1332.8L2827.5 1344.5L2828.8 1333.1L2829.8 1309.3L2830.9 1276.4L2832.4 1214.5L2833.6 1179.8L2834.8 1212.6L2835.9 1276.4L2837.0 1329.0L2838.9 1367.3L2840.1 1376.9L2841.4 1380.6L2842.7 1380.4L2844.1 1378.3L2845.7 1376.4L2847.4 1373.8L2848.7 1369.5L2849.9 1364.1L2851.4 1358.2L2853.1 1348.7L2854.4 1340.5L2855.9 1340.0L2857.1 1352.3L2858.0 1370.5L2860.0 1383.2L2861.5 1385.0L2863.1 1384.6L2864.7 1382.4L2866.4 1378.5L2868.0 1373.4L2869.5 1367.3L2871.7 1350.1L2872.8 1332.0L2874.1 1324.1L2875.3 1334.4L2876.0 1354.6L2877.5 1371.8L2878.8 1376.9L2880.2 1379.0L2881.5 1378.9L2882.9 1377.8L2884.3 1376.4L2886.2 1371.5L2887.4 1364.9L2888.9 1362.7L2890.4 1368.1L2891.6 1377.2L2893.4 1385.5L2894.7 1388.3L2895.8 1389.9L2896.9 1390.5L2898.3 1390.8L2900.2 1391.1L2901.8 1391.8L2903.4 1392.7L2904.9 1393.5L2906.4 1394.0L2907.8 1393.8L2909.2 1392.6L2910.5 1390.0L2912.6 1370.8L2913.4 1355.9L2914.5 1367.8L2916.1 1380.9L2917.5 1376.2L2918.9 1366.5L2920.3 1357.2L2921.8 1353.6L2923.3 1364.7L2924.1 1382.3L2925.2 1387.7L2926.4 1374.6L2927.4 1351.5L2928.6 1321.8L2929.9 1284.6L2931.0 1251.1L2932.3 1243.4L2933.8 1303.2L2935.5 1378.6L2936.9 1396.8L2938.2 1396.3L2940.0 1394.5L2941.5 1398.3L2942.8 1401.9L2944.2 1401.8L2945.7 1394.5L2947.4 1374.6L2948.7 1349.1L2950.2 1321.8L2951.9 1294.6L2953.3 1274.3L2954.8 1271.8L2956.0 1295.0L2956.9 1332.6L2958.2 1367.3L2959.7 1386.2L2961.0 1393.3L2962.7 1395.7L2964.4 1399.0L2965.7 1396.9L2967.3 1378.6L2968.7 1336.0L2969.7 1286.9L2970.9 1259.3L2972.4 1288.7L2974.1 1344.5L2975.6 1366.8L2976.9 1379.7L2978.6 1385.5L2980.3 1379.7L2981.6 1365.9L2983.2 1358.2L2984.7 1365.6L2986.0 1379.1L2987.7 1385.5L2989.2 1379.8L2990.5 1368.8L2991.8 1357.5L2993.4 1351.4L2995.0 1354.1L2996.2 1362.4L2997.5 1370.8L2999.1 1374.1L3000.6 1369.1L3001.7 1359.3L3003.0 1349.6L3004.8 1344.5L3006.3 1345.7L3007.5 1350.0L3008.7 1356.0L3010.4 1362.3L3012.7 1367.3L3014.2 1369.2L3015.7 1370.6L3017.0 1371.6L3018.4 1372.3L3019.8 1372.8L3021.2 1373.1L3022.8 1373.4L3024.5 1373.7L3026.4 1374.1L3028.3 1374.6L3030.0 1375.0L3031.6 1375.4L3033.1 1375.6L3034.5 1375.7L3035.9 1375.6L3037.3 1375.4L3038.6 1374.9L3040.0 1374.1L3042.4 1371.0L3043.7 1366.8L3044.5 1363.2L3045.7 1361.6L3046.8 1363.7L3047.4 1368.5L3049.1 1374.1L3050.4 1376.6L3051.8 1378.8L3053.2 1380.8L3054.7 1382.6L3056.3 1384.1L3058.2 1385.5L3059.9 1386.4L3061.2 1386.8L3062.4 1386.8L3063.6 1386.5L3065.1 1386.0L3067.3 1385.5L3068.9 1385.3L3070.6 1385.5L3072.2 1385.8L3073.8 1386.1L3075.4 1386.2L3076.9 1385.9L3078.3 1385.0L3079.7 1383.4L3080.9 1380.9L3082.9 1365.0L3083.6 1344.5L3084.8 1322.8L3085.9 1312.7L3086.9 1327.5L3088.9 1346.8L3090.4 1349.3L3092.0 1349.5L3093.6 1347.9L3095.3 1345.3L3096.8 1342.3L3098.5 1335.4L3099.2 1327.9L3100.2 1324.1L3101.4 1328.3L3102.3 1336.4L3103.6 1340.0L3105.2 1336.0L3106.7 1327.9L3108.2 1317.3L3109.7 1301.8L3110.9 1287.7L3112.0 1273.6L3113.2 1274.1L3114.4 1301.6L3116.1 1333.2L3117.5 1342.6L3118.8 1347.5L3120.2 1348.1L3121.8 1344.5L3123.6 1334.9L3124.9 1320.1L3126.4 1299.1L3127.7 1271.1L3128.6 1244.8L3129.8 1233.2L3131.0 1244.5L3132.0 1270.4L3133.2 1299.1L3134.3 1323.3L3135.3 1341.8L3136.6 1351.4L3138.2 1347.6L3139.6 1333.7L3141.1 1317.3L3142.5 1301.3L3143.4 1287.8L3144.5 1283.2L3145.7 1292.4L3146.6 1309.8L3148.0 1326.4L3149.5 1336.2L3150.8 1340.8L3152.5 1342.3L3154.1 1339.4L3155.4 1333.2L3157.0 1328.6L3158.7 1331.5L3160.1 1336.7L3161.6 1333.2L3162.9 1317.2L3163.8 1296.3L3165.0 1276.4L3166.2 1260.5L3167.1 1251.2L3168.4 1253.6L3169.8 1272.1L3171.1 1299.0L3173.0 1321.8L3174.3 1328.4L3175.6 1330.1L3176.8 1329.0L3178.2 1327.8L3179.8 1328.6L3181.5 1331.5L3183.0 1334.5L3184.4 1337.5L3185.6 1340.1L3186.6 1342.3" fill="none" stroke="#3d5ca8" stroke-width="2.0" stroke-linejoin="round"/>
<path d="M2106.7 1396.3L2108.3 1394.9L2110.0 1398.0L2112.0 1394.0L2114.2 1396.3L2116.6 1393.4L2119.3 1394.0L2122.3 1397.4L2125.2 1394.1L2127.8 1396.4L2130.1 1396.0L2132.4 1396.4L2134.7 1397.0L2137.3 1395.9L2140.2 1398.9L2143.1 1395.5L2145.6 1395.9L2147.7 1394.7L2149.7 1395.3L2151.6 1395.5L2153.6 1397.3L2155.8 1394.6L2158.9 1393.0L2160.8 1393.2L2162.4 1396.2L2164.7 1392.1L2167.1 1395.4L2168.8 1395.6L2170.7 1397.6L2173.7 1395.6L2175.9 1395.6L2178.0 1392.4L2180.0 1390.5L2182.1 1389.1L2184.4 1385.6L2187.1 1382.4L2189.6 1381.9L2191.7 1386.4L2193.6 1385.6L2195.4 1385.7L2197.6 1390.4L2200.4 1389.9L2203.0 1391.2L2205.2 1392.2L2207.3 1389.8L2209.3 1390.2L2211.3 1392.7L2213.5 1389.7L2216.1 1393.0L2218.9 1390.8L2221.1 1394.0L2223.0 1394.8L2224.8 1396.6L2226.9 1396.9L2229.5 1396.3L2232.1 1396.0L2234.4 1396.8L2236.3 1399.4L2238.3 1400.1L2240.4 1398.7L2242.9 1402.5L2245.6 1400.3L2247.7 1400.0L2249.5 1396.6L2251.5 1395.6L2254.0 1394.1L2256.5 1396.1L2258.5 1396.9L2260.3 1399.0L2262.4 1400.1L2265.2 1402.9L2267.5 1403.4L2269.3 1400.1L2271.0 1400.8L2272.8 1399.3L2275.2 1400.9L2278.6 1401.7L2281.1 1398.0L2283.7 1400.2L2286.1 1397.8L2288.5 1396.3L2290.9 1399.3L2293.4 1397.1L2295.8 1395.9L2298.3 1396.6L2300.9 1395.1L2304.2 1395.0L2306.7 1394.4L2308.5 1393.6L2310.2 1393.5L2312.0 1391.2L2314.3 1388.9L2317.0 1387.0L2318.9 1385.2L2320.5 1385.2L2322.5 1382.7L2325.4 1383.1L2327.8 1381.0L2329.9 1381.4L2331.9 1382.3L2333.9 1378.1L2336.0 1377.9L2338.4 1378.3L2341.1 1379.1L2343.7 1379.5L2345.9 1379.9L2347.8 1377.8L2349.6 1380.2L2351.6 1375.7L2353.9 1379.1L2356.7 1376.0L2359.6 1378.7L2362.2 1374.7L2364.5 1378.5L2366.8 1377.5L2369.1 1378.3L2371.6 1376.5L2374.6 1374.8L2377.4 1378.5L2379.6 1376.5L2381.5 1375.4L2383.3 1378.2L2385.1 1378.1L2387.4 1378.3L2390.2 1376.9L2393.1 1376.6L2395.6 1378.3L2397.8 1377.3L2400.0 1375.4L2402.3 1376.2L2405.0 1376.8L2408.0 1376.0L2411.2 1374.2L2414.0 1373.0L2416.5 1372.0L2418.9 1370.6L2421.2 1369.9L2423.5 1370.5L2425.9 1368.9L2428.8 1372.2L2430.0 1373.6L2431.4 1374.7L2434.8 1373.0L2437.2 1374.5L2439.6 1374.7L2442.0 1372.9L2444.5 1376.3L2447.1 1375.0L2449.6 1373.4L2452.1 1374.0L2454.7 1371.6L2457.1 1371.7L2460.7 1373.4L2462.8 1375.3L2464.4 1375.9L2466.0 1373.8L2468.3 1376.7L2471.0 1377.7L2473.4 1376.2L2475.5 1376.1L2477.5 1375.1L2479.5 1370.5L2481.9 1367.1L2483.9 1366.4L2486.0 1369.3L2488.0 1368.7L2490.2 1373.5L2492.9 1374.4L2495.3 1373.0L2497.1 1372.7L2499.1 1372.9L2501.8 1370.8L2504.2 1367.7L2506.2 1369.2L2508.2 1365.5L2510.3 1365.4L2512.9 1367.1L2515.5 1365.6L2517.6 1362.5L2519.5 1361.8L2521.5 1362.7L2524.1 1363.2L2526.7 1362.1L2528.7 1362.9L2530.6 1361.9L2532.7 1362.5L2535.3 1362.2L2537.8 1362.2L2539.9 1363.9L2541.8 1365.7L2543.9 1367.3L2546.4 1369.9L2549.0 1368.2L2551.1 1367.8L2553.0 1370.8L2555.0 1368.7L2557.6 1369.2L2560.2 1367.2L2562.2 1369.4L2564.1 1365.9L2566.2 1365.3L2568.8 1367.5L2571.3 1367.0L2573.4 1367.4L2575.3 1371.8L2577.3 1371.3L2579.9 1372.2L2582.5 1375.4L2584.5 1374.6L2586.4 1374.2L2588.5 1371.7L2591.1 1374.2L2593.7 1374.1L2595.8 1376.4L2597.8 1375.6L2599.8 1377.6L2602.2 1376.4L2605.1 1370.3L2607.2 1365.5L2609.1 1360.3L2611.2 1357.2L2613.6 1358.0L2615.6 1360.7L2617.7 1355.5L2619.6 1354.0L2622.3 1353.6L2624.6 1354.1L2626.6 1360.7L2628.7 1367.3L2631.2 1370.2L2633.7 1370.2L2635.7 1364.7L2637.6 1363.5L2640.0 1359.8L2642.4 1352.2L2644.2 1343.3L2646.0 1336.0L2648.0 1337.3L2650.0 1341.5L2651.4 1350.1L2653.6 1357.6L2655.9 1363.4L2657.9 1365.2L2660.1 1365.6L2662.7 1365.4L2665.4 1364.7L2667.6 1364.6L2669.7 1363.6L2671.8 1359.7L2674.3 1344.5L2676.4 1331.5L2678.6 1339.9L2680.7 1349.8L2683.2 1356.7L2685.3 1354.5L2686.9 1347.7L2688.9 1344.2L2690.8 1351.2L2692.3 1356.9L2694.5 1361.5L2696.6 1358.2L2698.5 1350.5L2700.4 1345.6L2702.5 1338.3L2704.6 1339.2L2705.9 1346.8L2708.2 1352.4L2710.4 1354.0L2712.4 1352.8L2714.6 1351.7L2717.3 1355.3L2719.8 1357.9L2721.8 1360.7L2723.8 1364.3L2726.4 1366.9L2729.0 1365.1L2731.3 1360.6L2733.3 1352.1L2735.5 1348.3L2738.0 1344.3L2740.0 1338.5L2741.9 1333.0L2743.6 1321.7L2745.7 1323.5L2747.7 1331.1L2749.2 1345.5L2751.4 1355.5L2753.7 1361.1L2755.8 1357.4L2758.2 1353.1L2760.3 1343.7L2761.9 1331.8L2763.9 1326.2L2765.8 1326.4L2767.4 1333.2L2769.5 1339.2L2771.9 1335.6L2774.0 1329.2L2776.4 1322.6L2778.6 1312.5L2780.2 1302.1L2782.0 1296.0L2784.4 1281.2L2786.6 1280.7L2788.6 1297.2L2791.1 1319.2L2793.1 1319.8L2795.0 1319.2L2797.0 1317.6L2799.1 1313.9L2801.4 1303.9L2803.0 1291.4L2804.8 1283.8L2807.0 1294.7L2809.3 1313.0L2811.2 1329.3L2812.8 1344.9L2815.0 1348.4L2817.4 1345.2L2819.4 1332.9L2821.8 1318.0L2824.0 1312.1L2825.5 1303.9L2827.5 1297.7L2829.5 1289.1L2831.2 1278.3L2833.2 1283.0L2835.1 1295.5L2836.6 1318.3L2838.9 1339.8L2840.9 1345.2L2842.7 1353.7L2844.5 1351.2L2846.8 1354.1L2849.1 1352.2L2850.9 1348.6L2852.7 1340.9L2854.8 1342.0L2857.3 1345.5L2859.2 1353.2L2861.6 1359.0L2864.0 1365.9L2866.0 1370.2L2868.4 1362.1L2871.0 1334.9L2873.0 1303.2L2875.2 1282.6L2877.7 1307.1L2879.8 1342.5L2881.8 1354.6L2884.3 1354.6L2886.3 1351.2L2888.3 1342.4L2890.3 1333.8L2892.3 1327.5L2894.8 1314.4L2896.8 1312.1L2898.9 1332.2L2901.4 1355.0L2903.6 1367.9L2905.7 1374.5L2908.2 1370.8L2910.4 1357.3L2912.0 1336.8L2913.9 1309.4L2916.2 1264.7L2918.4 1236.8L2920.7 1268.7L2923.0 1310.2L2925.2 1332.9L2927.5 1321.8L2929.7 1249.4L2932.0 1197.3L2934.0 1230.6L2935.6 1292.8L2937.7 1343.9L2939.8 1369.4L2941.4 1373.0L2943.4 1360.3L2945.5 1330.6L2947.1 1291.5L2949.1 1254.6L2951.6 1213.9L2954.1 1211.2L2955.9 1242.9L2957.4 1282.6L2959.3 1323.1L2961.3 1345.6L2962.9 1351.2L2965.0 1340.6L2967.1 1297.1L2968.8 1245.6L2970.9 1209.1L2972.9 1217.9L2974.5 1251.3L2976.4 1286.4L2978.5 1301.4L2980.9 1311.9L2983.2 1327.9L2985.3 1338.2L2987.7 1345.6L2989.9 1343.4L2991.4 1336.6L2993.4 1331.0L2995.4 1341.3L2997.0 1349.4L2999.1 1357.5L3001.4 1351.0L3003.4 1344.0L3005.9 1335.5L3008.2 1345.0L3010.1 1350.6L3012.7 1360.5L3015.1 1362.8L3017.1 1365.2L3019.2 1363.5L3021.8 1364.8L3024.5 1366.0L3026.6 1365.6L3028.7 1365.6L3030.9 1365.7L3033.3 1364.9L3034.7 1361.4L3036.6 1358.9L3038.5 1361.9L3039.9 1370.1L3042.3 1377.1L3044.4 1378.9L3046.3 1383.3L3048.5 1382.2L3051.4 1381.1L3053.8 1379.4L3056.0 1378.0L3058.1 1375.2L3060.2 1370.0L3062.7 1369.1L3065.6 1371.5L3067.6 1372.9L3069.6 1377.4L3071.8 1379.1L3074.6 1381.2L3076.6 1381.0L3078.6 1368.1L3081.0 1317.2L3082.7 1252.3L3084.0 1194.2L3085.5 1172.5L3087.2 1201.2L3089.0 1250.2L3091.1 1299.1L3093.1 1335.1L3094.7 1355.0L3096.8 1370.2L3099.3 1373.8L3101.4 1369.3L3103.6 1351.4L3106.1 1310.8L3108.2 1254.4L3110.5 1186.7L3112.7 1157.5L3114.8 1216.6L3117.3 1299.6L3119.4 1331.7L3121.3 1346.6L3124.1 1357.0L3126.4 1366.0L3128.4 1366.2L3130.6 1362.0L3133.2 1359.3L3135.7 1354.9L3137.5 1351.0L3139.5 1345.0L3142.3 1341.0L3144.8 1344.8L3146.9 1348.5L3149.0 1352.4L3151.2 1357.7L3153.6 1362.6L3156.4 1358.4L3158.4 1355.9L3160.3 1353.4L3162.7 1350.6L3165.3 1347.8L3167.5 1342.8L3169.5 1342.4L3171.8 1338.3L3174.5 1338.8L3176.4 1341.8L3178.6 1345.3L3180.9 1352.2L3182.6 1362.1L3184.3 1369.5L3186.5 1374.1L3187.7 1375.8" fill="none" stroke="#d8403a" stroke-width="2.0" stroke-linejoin="round"/>
<path d="M2165.4 1381.8V1397.4M2158.9 1381.8h13M2158.9 1397.4h13" stroke="#d8403a" stroke-width="2.6" fill="none"/>
<path d="M2348.9 1366.2V1389.6M2342.4 1366.2h13M2342.4 1389.6h13" stroke="#d8403a" stroke-width="2.6" fill="none"/>
<path d="M2529.7 1356.1V1377.3M2523.2 1356.1h13M2523.2 1377.3h13" stroke="#d8403a" stroke-width="2.6" fill="none"/>
<path d="M2712.3 1346.8V1370.7M2705.8 1346.8h13M2705.8 1370.7h13" stroke="#d8403a" stroke-width="2.6" fill="none"/>
<path d="M2893.4 1285.5V1316.1M2886.9 1285.5h13M2886.9 1316.1h13" stroke="#d8403a" stroke-width="2.6" fill="none"/>
<path d="M3074.1 1363.9V1395.7M3067.6 1363.9h13M3067.6 1395.7h13" stroke="#d8403a" stroke-width="2.6" fill="none"/>
</svg>
</body></html>
